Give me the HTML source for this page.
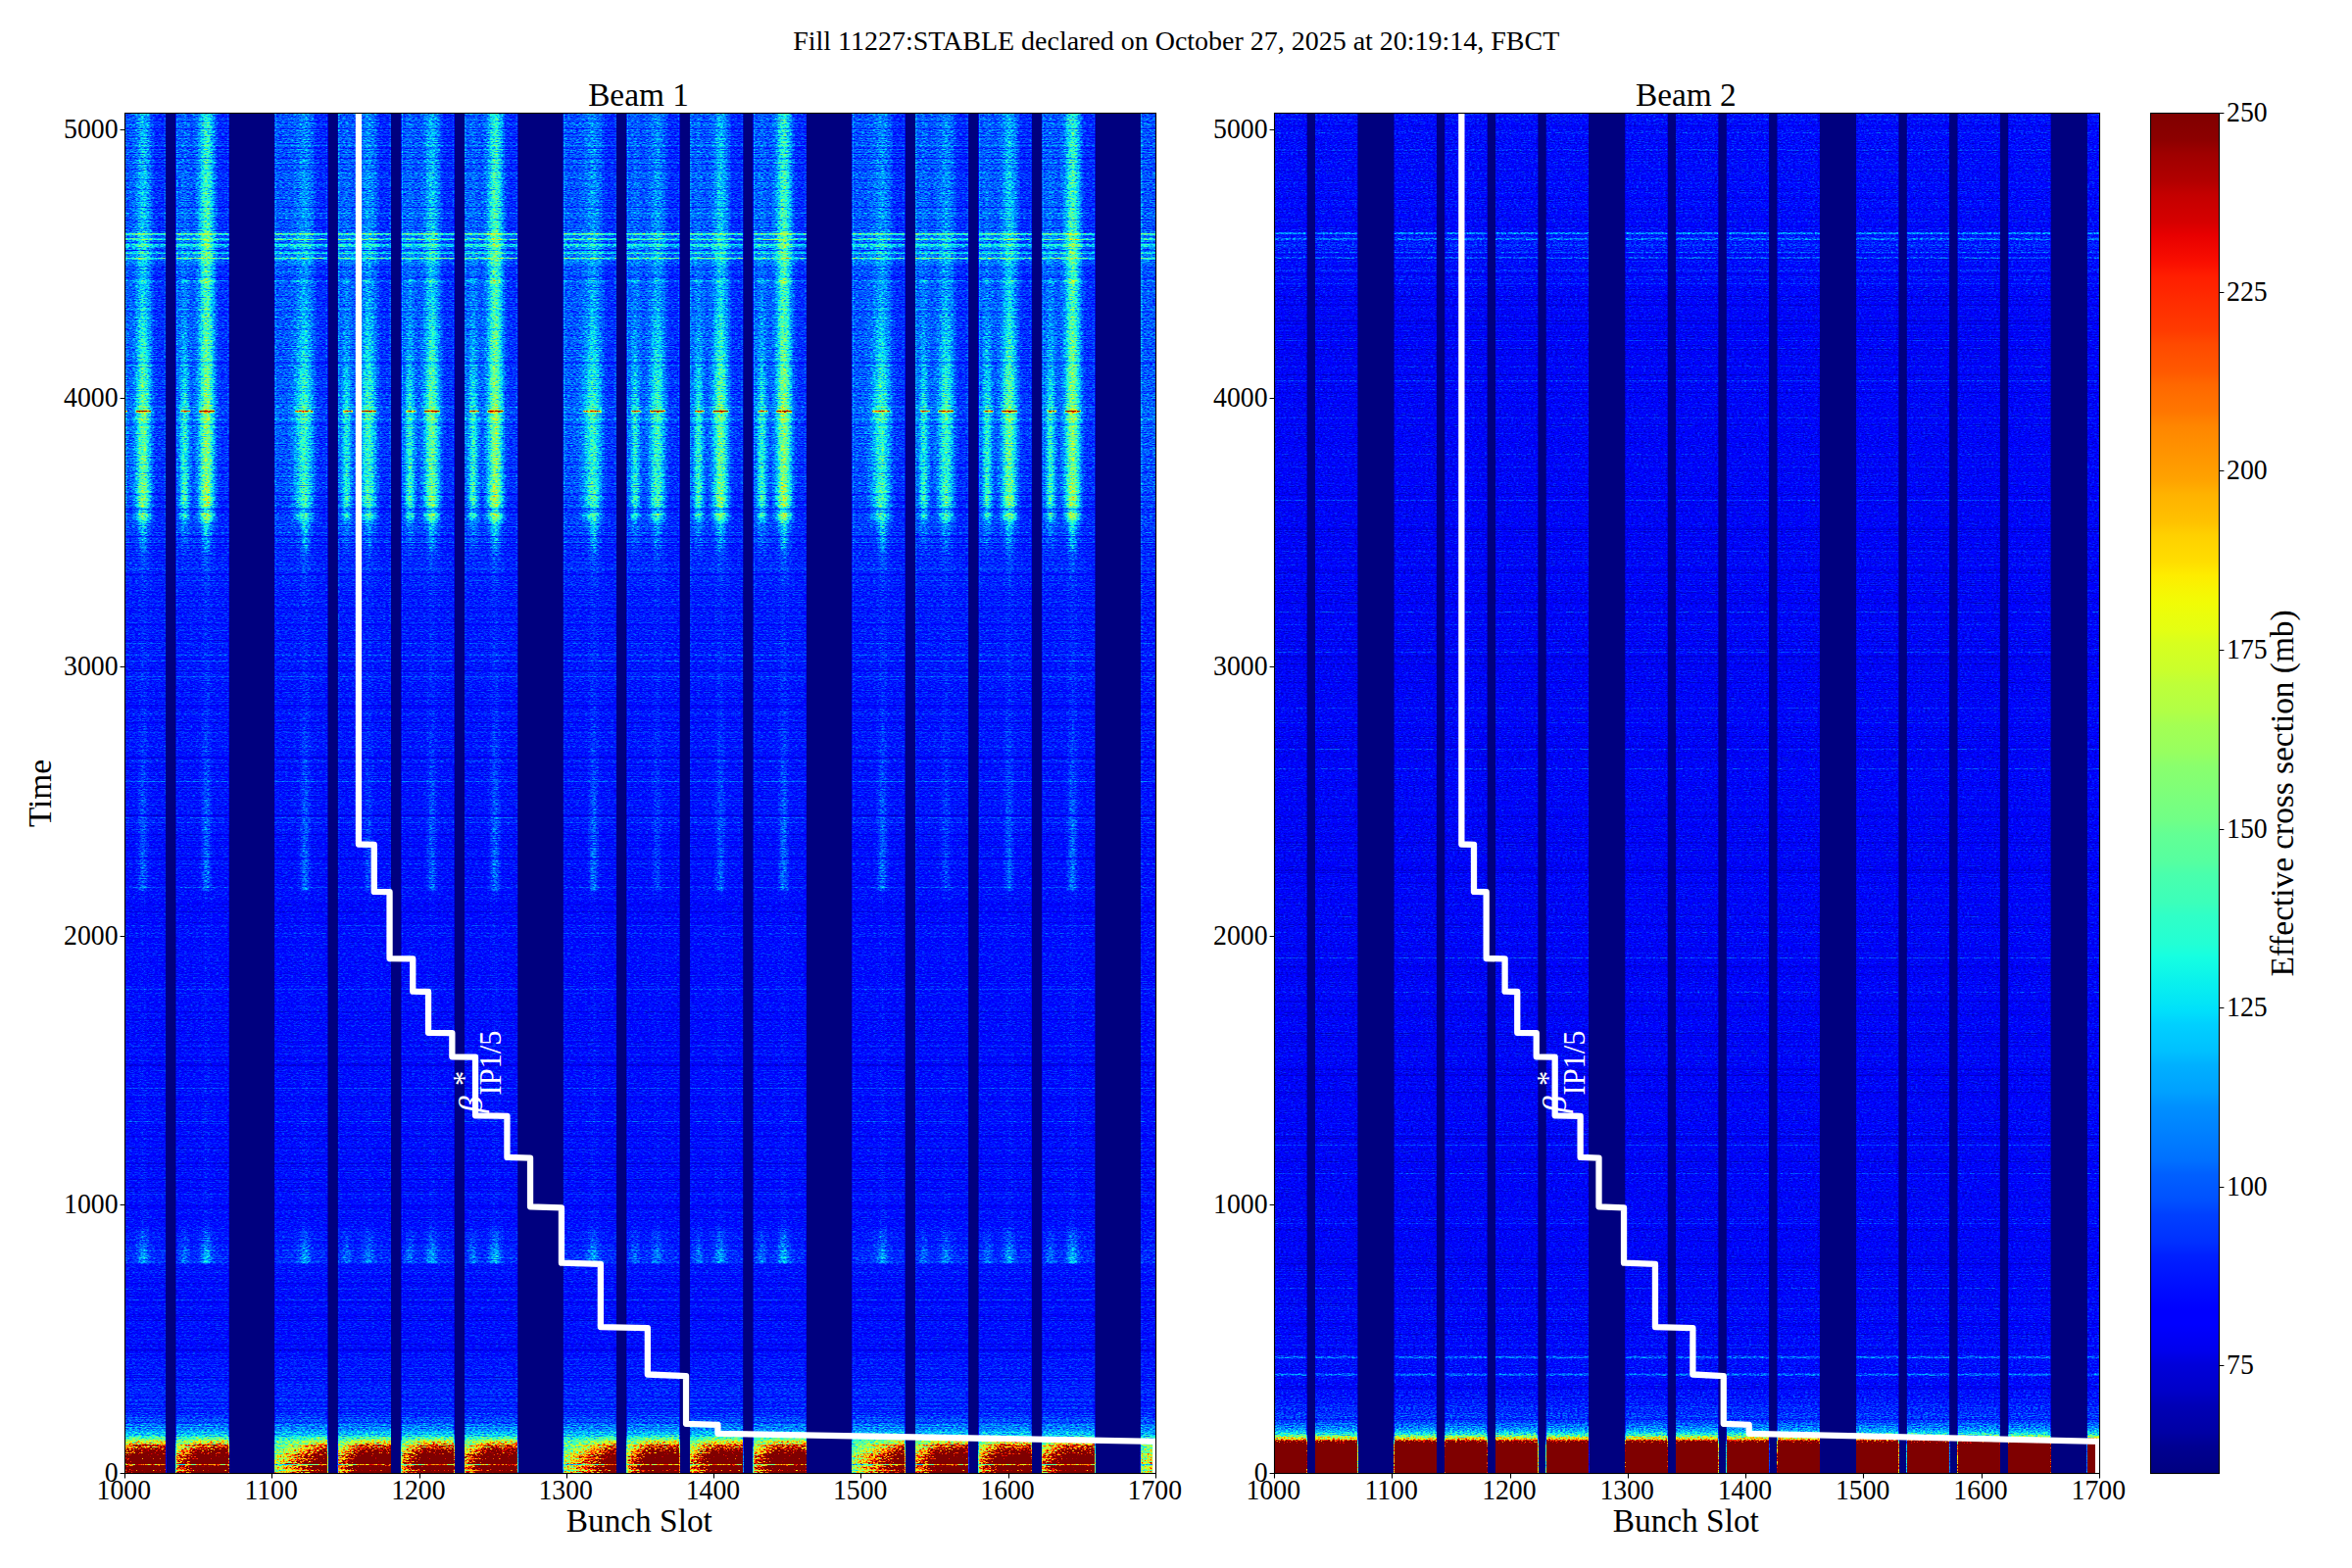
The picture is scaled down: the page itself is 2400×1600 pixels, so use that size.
<!DOCTYPE html>
<html lang="en"><head><meta charset="utf-8"><title>Fill 11227 FBCT effective cross section</title>
<style>html,body{margin:0;padding:0;background:#fff}svg{display:block}text{font-family:"Liberation Serif","DejaVu Serif",serif;fill:#000}</style>
</head><body>
<svg width="2400" height="1600" viewBox="0 0 2400 1600">
<defs>
<filter id="jn1" filterUnits="userSpaceOnUse" x="127.5" y="115.5" width="1052" height="1388" color-interpolation-filters="sRGB"><feTurbulence type="fractalNoise" baseFrequency="0.34 0.9" numOctaves="2" seed="7" result="t1"/><feTurbulence type="fractalNoise" baseFrequency="0 0.8" numOctaves="2" seed="27" result="t2"/><feComposite in="t1" in2="t2" operator="arithmetic" k1="0" k2=".72" k3=".28" k4="0" result="t"/><feColorMatrix in="t" type="matrix" values="2.6 0 0 0 -.8 2.6 0 0 0 -.8 2.6 0 0 0 -.8 0 0 0 0 1" result="n"/><feComposite in="SourceGraphic" in2="n" operator="arithmetic" k1=".42" k2=".79" k3="0" k4="0" result="s1"/><feComponentTransfer in="SourceGraphic" result="m"><feFuncR type="table" tableValues="0 .06 .11 .155 .22 .27 .28 .285 .29 .295 .3 .38 .46 .54 .62 .7 .76 .82 .88 .94 1 1 1 1 1 1 1 1 1 1 1 1 1 1 1 1 1 1 1 1 1"/><feFuncG type="table" tableValues="0 .06 .11 .155 .22 .27 .28 .285 .29 .295 .3 .38 .46 .54 .62 .7 .76 .82 .88 .94 1 1 1 1 1 1 1 1 1 1 1 1 1 1 1 1 1 1 1 1 1"/><feFuncB type="table" tableValues="0 .06 .11 .155 .22 .27 .28 .285 .29 .295 .3 .38 .46 .54 .62 .7 .76 .82 .88 .94 1 1 1 1 1 1 1 1 1 1 1 1 1 1 1 1 1 1 1 1 1"/></feComponentTransfer><feComposite in="n" in2="m" operator="arithmetic" k1="1" k2="0" k3="0" k4="0" result="nm"/><feComposite in="s1" in2="nm" operator="arithmetic" k1="0" k2="1" k3=".2" k4="0" result="s2"/><feColorMatrix in="m" type="matrix" values="-1 0 0 0 1 0 -1 0 0 1 0 0 -1 0 1 0 0 0 0 1" result="mi"/><feComposite in="s2" in2="mi" operator="arithmetic" k1="0" k2="1" k3=".1" k4="-.1" result="s3"/><feComponentTransfer in="s3"><feFuncR type="table" tableValues="0 0 0 0 0 0 0 0 0 0 0 0 0 0 0 0 0 0 0 0 0 0 0 0 0 0 0 0 0 0 0 0 0 0 0 0 0 0 0 0 0 0 0 0 0 0 0 0 0 0 0 0 0 0 0 0 0 0 0 0 0 0 0 0 0 0 0 0 0 0 0 .009 .035 .047 .06 .085 .098 .111 .123 .149 .161 .174 .187 .212 .225 .237 .262 .275 .288 .3 .326 .338 .351 .376 .389 .402 .414 .44 .452 .465 .49 .503 .515 .528 .553 .566 .579 .591 .617 .629 .642 .667 .68 .693 .705 .731 .743 .756 .781 .794 .806 .819 .844 .857 .87 .895 .908 .92 .933 .958 .971 .984 .996 1 1 1 1 1 1 1 1 1 1 1 1 1 1 1 1 1 1 1 1 1 1 1 1 1 1 1 1 1 1 1 1 1 1 1 1 1 1 1 1 1 1 1 1 1 .999 .963 .946 .928 .91 .874 .857 .839 .803 .785 .767 .75 .714 .696 .678 .643 .625 .607 .589 .553 .536 .518 .5 .5 .5 .5 .5 .5 .5 .5 .5 .5 .5 .5 .5 .5 .5 .5 .5 .5 .5 .5 .5 .5 .5 .5 .5 .5 .5 .5 .5 .5 .5 .5 .5 .5 .5 .5 .5 .5 .5 .5 .5 .5 .5 .5 .5 .5 .5 .5 .5 .5 .5 .5 .5 .5 .5 .5 .5 .5 .5 .5 .5 .5 .5 .5 .5 .5 .5 .5 .5 .5 .5 .5 .5 .5 .5 .5 .5 .5 .5 .5 .5 .5 .5 .5 .5 .5 .5 .5 .5 .5 .5 .5 .5 .5 .5 .5 .5 .5 .5 .5 .5 .5 .5 .5 .5 .5 .5 .5 .5 .5 .5 .5 .5 .5 .5 .5 .5 .5 .5 .5 .5 .5 .5 .5 .5 .5 .5 .5 .5 .5 .5 .5 .5 .5 .5 .5 .5 .5 .5 .5 .5 .5 .5 .5 .5 .5 .5 .5 .5 .5 .5 .5 .5 .5 .5 .5 .5 .5 .5 .5 .5 .5 .5 .5 .5 .5 .5 .5 .5 .5 .5 .5 .5 .5 .5 .5 .5 .5 .5 .5 .5 .5 .5 .5 .5 .5 .5 .5 .5 .5 .5 .5 .5 .5 .5 .5 .5 .5 .5 .5 .5"/><feFuncG type="table" tableValues="0 0 0 0 0 0 0 0 0 0 0 0 0 0 0 0 0 0 0 0 0 0 0 0 0 .002 .018 .033 .049 .08 .096 .112 .127 .159 .175 .19 .222 .237 .253 .269 .3 .316 .331 .363 .378 .394 .41 .441 .457 .473 .504 .52 .535 .551 .582 .598 .614 .629 .661 .676 .692 .724 .739 .755 .771 .802 .818 .833 .865 .88 .896 .912 .943 .959 .975 1 1 1 1 1 1 1 1 1 1 1 1 1 1 1 1 1 1 1 1 1 1 1 1 1 1 1 1 1 1 1 1 1 1 1 1 1 1 1 1 1 1 1 1 1 1 1 1 1 1 1 1 1 1 .974 .959 .945 .93 .901 .887 .872 .843 .829 .814 .8 .771 .756 .741 .712 .698 .683 .669 .64 .625 .611 .582 .567 .553 .538 .509 .495 .48 .466 .436 .422 .407 .378 .364 .349 .335 .306 .291 .277 .248 .233 .219 .204 .175 .16 .146 .117 .102 .088 .073 .044 .03 .015 .001 0 0 0 0 0 0 0 0 0 0 0 0 0 0 0 0 0 0 0 0 0 0 0 0 0 0 0 0 0 0 0 0 0 0 0 0 0 0 0 0 0 0 0 0 0 0 0 0 0 0 0 0 0 0 0 0 0 0 0 0 0 0 0 0 0 0 0 0 0 0 0 0 0 0 0 0 0 0 0 0 0 0 0 0 0 0 0 0 0 0 0 0 0 0 0 0 0 0 0 0 0 0 0 0 0 0 0 0 0 0 0 0 0 0 0 0 0 0 0 0 0 0 0 0 0 0 0 0 0 0 0 0 0 0 0 0 0 0 0 0 0 0 0 0 0 0 0 0 0 0 0 0 0 0 0 0 0 0 0 0 0 0 0 0 0 0 0 0 0 0 0 0 0 0 0 0 0 0 0 0 0 0 0 0 0 0 0 0 0 0 0 0 0 0 0 0 0 0 0 0 0 0 0 0 0 0 0 0 0 0 0 0 0 0 0 0 0 0"/><feFuncB type="table" tableValues=".5 .518 .536 .553 .589 .607 .625 .643 .678 .696 .714 .75 .767 .785 .803 .839 .857 .874 .91 .928 .946 .963 .999 1 1 1 1 1 1 1 1 1 1 1 1 1 1 1 1 1 1 1 1 1 1 1 1 1 1 1 1 1 1 1 1 1 1 1 1 1 1 1 1 1 1 1 1 1 .996 .984 .971 .958 .933 .92 .908 .882 .87 .857 .844 .819 .806 .794 .781 .756 .743 .731 .705 .693 .68 .667 .642 .629 .617 .591 .579 .566 .553 .528 .515 .503 .478 .465 .452 .44 .414 .402 .389 .376 .351 .338 .326 .3 .288 .275 .262 .237 .225 .212 .187 .174 .161 .149 .123 .111 .098 .073 .06 .047 .035 .009 0 0 0 0 0 0 0 0 0 0 0 0 0 0 0 0 0 0 0 0 0 0 0 0 0 0 0 0 0 0 0 0 0 0 0 0 0 0 0 0 0 0 0 0 0 0 0 0 0 0 0 0 0 0 0 0 0 0 0 0 0 0 0 0 0 0 0 0 0 0 0 0 0 0 0 0 0 0 0 0 0 0 0 0 0 0 0 0 0 0 0 0 0 0 0 0 0 0 0 0 0 0 0 0 0 0 0 0 0 0 0 0 0 0 0 0 0 0 0 0 0 0 0 0 0 0 0 0 0 0 0 0 0 0 0 0 0 0 0 0 0 0 0 0 0 0 0 0 0 0 0 0 0 0 0 0 0 0 0 0 0 0 0 0 0 0 0 0 0 0 0 0 0 0 0 0 0 0 0 0 0 0 0 0 0 0 0 0 0 0 0 0 0 0 0 0 0 0 0 0 0 0 0 0 0 0 0 0 0 0 0 0 0 0 0 0 0 0 0 0 0 0 0 0 0 0 0 0 0 0 0 0 0 0 0 0 0 0 0 0 0 0 0 0 0 0 0 0 0 0 0 0 0 0 0 0 0 0 0 0 0 0 0 0 0 0 0 0 0 0 0"/></feComponentTransfer></filter>
<filter id="jn2" filterUnits="userSpaceOnUse" x="1300.5" y="115.5" width="842" height="1388" color-interpolation-filters="sRGB"><feTurbulence type="fractalNoise" baseFrequency="0.4 0.9" numOctaves="2" seed="11" result="t1"/><feTurbulence type="fractalNoise" baseFrequency="0 0.8" numOctaves="2" seed="31" result="t2"/><feComposite in="t1" in2="t2" operator="arithmetic" k1="0" k2=".72" k3=".28" k4="0" result="t"/><feColorMatrix in="t" type="matrix" values="2.6 0 0 0 -.8 2.6 0 0 0 -.8 2.6 0 0 0 -.8 0 0 0 0 1" result="n"/><feComposite in="SourceGraphic" in2="n" operator="arithmetic" k1=".42" k2=".79" k3="0" k4="0" result="s1"/><feComponentTransfer in="SourceGraphic" result="m"><feFuncR type="table" tableValues="0 .07 .15 .2 .24 .27 .3 .315 .33 .345 .36 .408 .456 .504 .552 .6 .68 .76 .84 .92 1 1 1 1 1 1 1 1 1 1 1 1 1 1 1 1 1 1 1 1 1"/><feFuncG type="table" tableValues="0 .07 .15 .2 .24 .27 .3 .315 .33 .345 .36 .408 .456 .504 .552 .6 .68 .76 .84 .92 1 1 1 1 1 1 1 1 1 1 1 1 1 1 1 1 1 1 1 1 1"/><feFuncB type="table" tableValues="0 .07 .15 .2 .24 .27 .3 .315 .33 .345 .36 .408 .456 .504 .552 .6 .68 .76 .84 .92 1 1 1 1 1 1 1 1 1 1 1 1 1 1 1 1 1 1 1 1 1"/></feComponentTransfer><feComposite in="n" in2="m" operator="arithmetic" k1="1" k2="0" k3="0" k4="0" result="nm"/><feComposite in="s1" in2="nm" operator="arithmetic" k1="0" k2="1" k3=".2" k4="0" result="s2"/><feColorMatrix in="m" type="matrix" values="-1 0 0 0 1 0 -1 0 0 1 0 0 -1 0 1 0 0 0 0 1" result="mi"/><feComposite in="s2" in2="mi" operator="arithmetic" k1="0" k2="1" k3=".1" k4="-.1" result="s3"/><feComponentTransfer in="s3"><feFuncR type="table" tableValues="0 0 0 0 0 0 0 0 0 0 0 0 0 0 0 0 0 0 0 0 0 0 0 0 0 0 0 0 0 0 0 0 0 0 0 0 0 0 0 0 0 0 0 0 0 0 0 0 0 0 0 0 0 0 0 0 0 0 0 0 0 0 0 0 0 0 0 0 0 0 0 .009 .035 .047 .06 .085 .098 .111 .123 .149 .161 .174 .187 .212 .225 .237 .262 .275 .288 .3 .326 .338 .351 .376 .389 .402 .414 .44 .452 .465 .49 .503 .515 .528 .553 .566 .579 .591 .617 .629 .642 .667 .68 .693 .705 .731 .743 .756 .781 .794 .806 .819 .844 .857 .87 .895 .908 .92 .933 .958 .971 .984 .996 1 1 1 1 1 1 1 1 1 1 1 1 1 1 1 1 1 1 1 1 1 1 1 1 1 1 1 1 1 1 1 1 1 1 1 1 1 1 1 1 1 1 1 1 1 .999 .963 .946 .928 .91 .874 .857 .839 .803 .785 .767 .75 .714 .696 .678 .643 .625 .607 .589 .553 .536 .518 .5 .5 .5 .5 .5 .5 .5 .5 .5 .5 .5 .5 .5 .5 .5 .5 .5 .5 .5 .5 .5 .5 .5 .5 .5 .5 .5 .5 .5 .5 .5 .5 .5 .5 .5 .5 .5 .5 .5 .5 .5 .5 .5 .5 .5 .5 .5 .5 .5 .5 .5 .5 .5 .5 .5 .5 .5 .5 .5 .5 .5 .5 .5 .5 .5 .5 .5 .5 .5 .5 .5 .5 .5 .5 .5 .5 .5 .5 .5 .5 .5 .5 .5 .5 .5 .5 .5 .5 .5 .5 .5 .5 .5 .5 .5 .5 .5 .5 .5 .5 .5 .5 .5 .5 .5 .5 .5 .5 .5 .5 .5 .5 .5 .5 .5 .5 .5 .5 .5 .5 .5 .5 .5 .5 .5 .5 .5 .5 .5 .5 .5 .5 .5 .5 .5 .5 .5 .5 .5 .5 .5 .5 .5 .5 .5 .5 .5 .5 .5 .5 .5 .5 .5 .5 .5 .5 .5 .5 .5 .5 .5 .5 .5 .5 .5 .5 .5 .5 .5 .5 .5 .5 .5 .5 .5 .5 .5 .5 .5 .5 .5 .5 .5 .5 .5 .5 .5 .5 .5 .5 .5 .5 .5 .5 .5 .5 .5 .5 .5 .5 .5"/><feFuncG type="table" tableValues="0 0 0 0 0 0 0 0 0 0 0 0 0 0 0 0 0 0 0 0 0 0 0 0 0 .002 .018 .033 .049 .08 .096 .112 .127 .159 .175 .19 .222 .237 .253 .269 .3 .316 .331 .363 .378 .394 .41 .441 .457 .473 .504 .52 .535 .551 .582 .598 .614 .629 .661 .676 .692 .724 .739 .755 .771 .802 .818 .833 .865 .88 .896 .912 .943 .959 .975 1 1 1 1 1 1 1 1 1 1 1 1 1 1 1 1 1 1 1 1 1 1 1 1 1 1 1 1 1 1 1 1 1 1 1 1 1 1 1 1 1 1 1 1 1 1 1 1 1 1 1 1 1 1 .974 .959 .945 .93 .901 .887 .872 .843 .829 .814 .8 .771 .756 .741 .712 .698 .683 .669 .64 .625 .611 .582 .567 .553 .538 .509 .495 .48 .466 .436 .422 .407 .378 .364 .349 .335 .306 .291 .277 .248 .233 .219 .204 .175 .16 .146 .117 .102 .088 .073 .044 .03 .015 .001 0 0 0 0 0 0 0 0 0 0 0 0 0 0 0 0 0 0 0 0 0 0 0 0 0 0 0 0 0 0 0 0 0 0 0 0 0 0 0 0 0 0 0 0 0 0 0 0 0 0 0 0 0 0 0 0 0 0 0 0 0 0 0 0 0 0 0 0 0 0 0 0 0 0 0 0 0 0 0 0 0 0 0 0 0 0 0 0 0 0 0 0 0 0 0 0 0 0 0 0 0 0 0 0 0 0 0 0 0 0 0 0 0 0 0 0 0 0 0 0 0 0 0 0 0 0 0 0 0 0 0 0 0 0 0 0 0 0 0 0 0 0 0 0 0 0 0 0 0 0 0 0 0 0 0 0 0 0 0 0 0 0 0 0 0 0 0 0 0 0 0 0 0 0 0 0 0 0 0 0 0 0 0 0 0 0 0 0 0 0 0 0 0 0 0 0 0 0 0 0 0 0 0 0 0 0 0 0 0 0 0 0 0 0 0 0 0 0"/><feFuncB type="table" tableValues=".5 .518 .536 .553 .589 .607 .625 .643 .678 .696 .714 .75 .767 .785 .803 .839 .857 .874 .91 .928 .946 .963 .999 1 1 1 1 1 1 1 1 1 1 1 1 1 1 1 1 1 1 1 1 1 1 1 1 1 1 1 1 1 1 1 1 1 1 1 1 1 1 1 1 1 1 1 1 1 .996 .984 .971 .958 .933 .92 .908 .882 .87 .857 .844 .819 .806 .794 .781 .756 .743 .731 .705 .693 .68 .667 .642 .629 .617 .591 .579 .566 .553 .528 .515 .503 .478 .465 .452 .44 .414 .402 .389 .376 .351 .338 .326 .3 .288 .275 .262 .237 .225 .212 .187 .174 .161 .149 .123 .111 .098 .073 .06 .047 .035 .009 0 0 0 0 0 0 0 0 0 0 0 0 0 0 0 0 0 0 0 0 0 0 0 0 0 0 0 0 0 0 0 0 0 0 0 0 0 0 0 0 0 0 0 0 0 0 0 0 0 0 0 0 0 0 0 0 0 0 0 0 0 0 0 0 0 0 0 0 0 0 0 0 0 0 0 0 0 0 0 0 0 0 0 0 0 0 0 0 0 0 0 0 0 0 0 0 0 0 0 0 0 0 0 0 0 0 0 0 0 0 0 0 0 0 0 0 0 0 0 0 0 0 0 0 0 0 0 0 0 0 0 0 0 0 0 0 0 0 0 0 0 0 0 0 0 0 0 0 0 0 0 0 0 0 0 0 0 0 0 0 0 0 0 0 0 0 0 0 0 0 0 0 0 0 0 0 0 0 0 0 0 0 0 0 0 0 0 0 0 0 0 0 0 0 0 0 0 0 0 0 0 0 0 0 0 0 0 0 0 0 0 0 0 0 0 0 0 0 0 0 0 0 0 0 0 0 0 0 0 0 0 0 0 0 0 0 0 0 0 0 0 0 0 0 0 0 0 0 0 0 0 0 0 0 0 0 0 0 0 0 0 0 0 0 0 0 0 0 0 0 0"/></feComponentTransfer></filter>
<linearGradient id="g1b" gradientUnits="userSpaceOnUse" x1="0" y1="1503.5" x2="0" y2="115.5"><stop offset="0" stop-color="#bfbfbf"/><stop offset=".0119" stop-color="#b9b9b9"/><stop offset=".0168" stop-color="#8f8f8f"/><stop offset=".0198" stop-color="#797979"/><stop offset=".0213" stop-color="#696969"/><stop offset=".0227" stop-color="#575757"/><stop offset=".0247" stop-color="#404040"/><stop offset=".0277" stop-color="#2e2e2e"/><stop offset=".0316" stop-color="#222222"/><stop offset=".0375" stop-color="#1b1b1b"/><stop offset=".0474" stop-color="#161616"/><stop offset=".0632" stop-color="#141414"/><stop offset=".0889" stop-color="#121212"/><stop offset=".1539" stop-color="#121212"/><stop offset=".1549" stop-color="#151515"/><stop offset=".164" stop-color="#151515"/><stop offset=".1817" stop-color="#121212"/><stop offset=".4149" stop-color="#111111"/><stop offset=".4287" stop-color="#121212"/><stop offset=".5927" stop-color="#131313"/><stop offset=".6519" stop-color="#141414"/><stop offset=".6914" stop-color="#171717"/><stop offset=".7309" stop-color="#1a1a1a"/><stop offset=".7803" stop-color="#1c1c1c"/><stop offset=".8692" stop-color="#1b1b1b"/><stop offset=".885" stop-color="#1b1b1b"/><stop offset=".891" stop-color="#1f1f1f"/><stop offset=".9117" stop-color="#1f1f1f"/><stop offset=".9147" stop-color="#1b1b1b"/><stop offset=".9996" stop-color="#1b1b1b"/></linearGradient>
<linearGradient id="g1B0" gradientUnits="userSpaceOnUse" x1="0" y1="1503.5" x2="0" y2="115.5"><stop offset="0" stop-color="#808080" stop-opacity="0"/><stop offset=".1539" stop-color="#808080" stop-opacity="0"/><stop offset=".1549" stop-color="#808080" stop-opacity=".084"/><stop offset=".162" stop-color="#808080" stop-opacity=".078"/><stop offset=".1719" stop-color="#808080" stop-opacity=".041"/><stop offset=".1837" stop-color="#808080" stop-opacity="0"/><stop offset=".6717" stop-color="#808080" stop-opacity="0"/><stop offset=".6914" stop-color="#808080" stop-opacity=".024"/><stop offset=".6983" stop-color="#808080" stop-opacity=".073"/><stop offset=".7013" stop-color="#808080" stop-opacity=".294"/><stop offset=".7051" stop-color="#808080" stop-opacity=".468"/><stop offset=".7076" stop-color="#808080" stop-opacity=".247"/><stop offset=".7092" stop-color="#808080" stop-opacity=".185"/><stop offset=".7108" stop-color="#808080" stop-opacity=".359"/><stop offset=".7141" stop-color="#808080" stop-opacity=".484"/><stop offset=".7191" stop-color="#808080" stop-opacity=".411"/><stop offset=".7309" stop-color="#808080" stop-opacity=".352"/><stop offset=".7704" stop-color="#808080" stop-opacity=".344"/><stop offset=".7793" stop-color="#808080" stop-opacity=".384"/><stop offset=".7902" stop-color="#808080" stop-opacity=".345"/><stop offset=".8297" stop-color="#808080" stop-opacity=".219"/><stop offset=".8692" stop-color="#808080" stop-opacity=".106"/><stop offset=".8742" stop-color="#808080" stop-opacity=".099"/><stop offset=".8753" stop-color="#808080" stop-opacity=".151"/><stop offset=".8777" stop-color="#808080" stop-opacity=".142"/><stop offset=".8789" stop-color="#808080" stop-opacity=".088"/><stop offset=".9127" stop-color="#808080" stop-opacity=".094"/><stop offset=".9996" stop-color="#808080" stop-opacity=".076"/></linearGradient>
<linearGradient id="g1B1" gradientUnits="userSpaceOnUse" x1="0" y1="1503.5" x2="0" y2="115.5"><stop offset="0" stop-color="#808080" stop-opacity="0"/><stop offset=".1539" stop-color="#808080" stop-opacity="0"/><stop offset=".1549" stop-color="#808080" stop-opacity=".084"/><stop offset=".162" stop-color="#808080" stop-opacity=".078"/><stop offset=".1719" stop-color="#808080" stop-opacity=".041"/><stop offset=".1837" stop-color="#808080" stop-opacity="0"/><stop offset=".6717" stop-color="#808080" stop-opacity="0"/><stop offset=".6914" stop-color="#808080" stop-opacity=".024"/><stop offset=".6983" stop-color="#808080" stop-opacity=".073"/><stop offset=".7013" stop-color="#808080" stop-opacity=".294"/><stop offset=".7051" stop-color="#808080" stop-opacity=".468"/><stop offset=".7076" stop-color="#808080" stop-opacity=".247"/><stop offset=".7092" stop-color="#808080" stop-opacity=".185"/><stop offset=".7108" stop-color="#808080" stop-opacity=".359"/><stop offset=".7141" stop-color="#808080" stop-opacity=".484"/><stop offset=".7191" stop-color="#808080" stop-opacity=".411"/><stop offset=".7309" stop-color="#808080" stop-opacity=".352"/><stop offset=".7704" stop-color="#808080" stop-opacity=".344"/><stop offset=".7793" stop-color="#808080" stop-opacity=".384"/><stop offset=".7902" stop-color="#808080" stop-opacity=".345"/><stop offset=".8297" stop-color="#808080" stop-opacity=".224"/><stop offset=".8692" stop-color="#808080" stop-opacity=".113"/><stop offset=".8742" stop-color="#808080" stop-opacity=".107"/><stop offset=".8753" stop-color="#808080" stop-opacity=".164"/><stop offset=".8777" stop-color="#808080" stop-opacity=".156"/><stop offset=".8789" stop-color="#808080" stop-opacity=".097"/><stop offset=".9127" stop-color="#808080" stop-opacity=".103"/><stop offset=".9996" stop-color="#808080" stop-opacity=".084"/></linearGradient>
<linearGradient id="g1B2" gradientUnits="userSpaceOnUse" x1="0" y1="1503.5" x2="0" y2="115.5"><stop offset="0" stop-color="#808080" stop-opacity="0"/><stop offset=".1539" stop-color="#808080" stop-opacity="0"/><stop offset=".1549" stop-color="#808080" stop-opacity=".084"/><stop offset=".162" stop-color="#808080" stop-opacity=".078"/><stop offset=".1719" stop-color="#808080" stop-opacity=".041"/><stop offset=".1837" stop-color="#808080" stop-opacity="0"/><stop offset=".6717" stop-color="#808080" stop-opacity="0"/><stop offset=".6914" stop-color="#808080" stop-opacity=".024"/><stop offset=".6983" stop-color="#808080" stop-opacity=".073"/><stop offset=".7013" stop-color="#808080" stop-opacity=".294"/><stop offset=".7051" stop-color="#808080" stop-opacity=".468"/><stop offset=".7076" stop-color="#808080" stop-opacity=".247"/><stop offset=".7092" stop-color="#808080" stop-opacity=".185"/><stop offset=".7108" stop-color="#808080" stop-opacity=".359"/><stop offset=".7141" stop-color="#808080" stop-opacity=".484"/><stop offset=".7191" stop-color="#808080" stop-opacity=".411"/><stop offset=".7309" stop-color="#808080" stop-opacity=".352"/><stop offset=".7704" stop-color="#808080" stop-opacity=".344"/><stop offset=".7793" stop-color="#808080" stop-opacity=".384"/><stop offset=".7902" stop-color="#808080" stop-opacity=".345"/><stop offset=".8297" stop-color="#808080" stop-opacity=".245"/><stop offset=".8692" stop-color="#808080" stop-opacity=".15"/><stop offset=".8742" stop-color="#808080" stop-opacity=".149"/><stop offset=".8753" stop-color="#808080" stop-opacity=".23"/><stop offset=".8777" stop-color="#808080" stop-opacity=".223"/><stop offset=".8789" stop-color="#808080" stop-opacity=".141"/><stop offset=".9127" stop-color="#808080" stop-opacity=".15"/><stop offset=".9996" stop-color="#808080" stop-opacity=".122"/></linearGradient>
<linearGradient id="g1B3" gradientUnits="userSpaceOnUse" x1="0" y1="1503.5" x2="0" y2="115.5"><stop offset="0" stop-color="#808080" stop-opacity="0"/><stop offset=".1539" stop-color="#808080" stop-opacity="0"/><stop offset=".1549" stop-color="#808080" stop-opacity=".084"/><stop offset=".162" stop-color="#808080" stop-opacity=".078"/><stop offset=".1719" stop-color="#808080" stop-opacity=".041"/><stop offset=".1837" stop-color="#808080" stop-opacity="0"/><stop offset=".6717" stop-color="#808080" stop-opacity="0"/><stop offset=".6914" stop-color="#808080" stop-opacity=".024"/><stop offset=".6983" stop-color="#808080" stop-opacity=".073"/><stop offset=".7013" stop-color="#808080" stop-opacity=".294"/><stop offset=".7051" stop-color="#808080" stop-opacity=".468"/><stop offset=".7076" stop-color="#808080" stop-opacity=".247"/><stop offset=".7092" stop-color="#808080" stop-opacity=".185"/><stop offset=".7108" stop-color="#808080" stop-opacity=".359"/><stop offset=".7141" stop-color="#808080" stop-opacity=".484"/><stop offset=".7191" stop-color="#808080" stop-opacity=".411"/><stop offset=".7309" stop-color="#808080" stop-opacity=".352"/><stop offset=".7704" stop-color="#808080" stop-opacity=".344"/><stop offset=".7793" stop-color="#808080" stop-opacity=".384"/><stop offset=".7902" stop-color="#808080" stop-opacity=".345"/><stop offset=".8297" stop-color="#808080" stop-opacity=".297"/><stop offset=".8692" stop-color="#808080" stop-opacity=".242"/><stop offset=".8742" stop-color="#808080" stop-opacity=".251"/><stop offset=".8753" stop-color="#808080" stop-opacity=".392"/><stop offset=".8777" stop-color="#808080" stop-opacity=".39"/><stop offset=".8789" stop-color="#808080" stop-opacity=".249"/><stop offset=".9127" stop-color="#808080" stop-opacity=".265"/><stop offset=".9996" stop-color="#808080" stop-opacity=".216"/></linearGradient>
<linearGradient id="g1N" gradientUnits="userSpaceOnUse" x1="0" y1="1503.5" x2="0" y2="115.5"><stop offset="0" stop-color="#808080" stop-opacity="0"/><stop offset=".1539" stop-color="#808080" stop-opacity="0"/><stop offset=".1549" stop-color="#808080" stop-opacity=".108"/><stop offset=".162" stop-color="#808080" stop-opacity=".102"/><stop offset=".1719" stop-color="#808080" stop-opacity=".059"/><stop offset=".1837" stop-color="#808080" stop-opacity=".014"/><stop offset=".4277" stop-color="#808080" stop-opacity=".014"/><stop offset=".4293" stop-color="#808080" stop-opacity=".123"/><stop offset=".4741" stop-color="#808080" stop-opacity=".094"/><stop offset=".5531" stop-color="#808080" stop-opacity=".035"/><stop offset=".6223" stop-color="#808080" stop-opacity=".018"/><stop offset=".6519" stop-color="#808080" stop-opacity=".024"/><stop offset=".6756" stop-color="#808080" stop-opacity=".06"/><stop offset=".6815" stop-color="#808080" stop-opacity=".145"/><stop offset=".6983" stop-color="#808080" stop-opacity=".171"/><stop offset=".7033" stop-color="#808080" stop-opacity=".061"/><stop offset=".9996" stop-color="#808080" stop-opacity=".025"/></linearGradient>
<linearGradient id="g1A" gradientUnits="userSpaceOnUse" x1="0" y1="1503.5" x2="0" y2="115.5"><stop offset="0" stop-color="#808080" stop-opacity="0"/><stop offset=".1539" stop-color="#808080" stop-opacity="0"/><stop offset=".1549" stop-color="#808080" stop-opacity=".102"/><stop offset=".162" stop-color="#808080" stop-opacity=".096"/><stop offset=".1719" stop-color="#808080" stop-opacity=".047"/><stop offset=".1837" stop-color="#808080" stop-opacity="0"/><stop offset=".6717" stop-color="#808080" stop-opacity="0"/><stop offset=".6855" stop-color="#808080" stop-opacity=".061"/><stop offset=".6983" stop-color="#808080" stop-opacity=".098"/><stop offset=".7013" stop-color="#808080" stop-opacity=".184"/><stop offset=".7051" stop-color="#808080" stop-opacity=".369"/><stop offset=".7078" stop-color="#808080" stop-opacity=".148"/><stop offset=".7108" stop-color="#808080" stop-opacity=".247"/><stop offset=".7141" stop-color="#808080" stop-opacity=".384"/><stop offset=".7211" stop-color="#808080" stop-opacity=".299"/><stop offset=".7309" stop-color="#808080" stop-opacity=".277"/><stop offset=".7793" stop-color="#808080" stop-opacity=".243"/><stop offset=".81" stop-color="#808080" stop-opacity=".153"/><stop offset=".8495" stop-color="#808080" stop-opacity=".076"/><stop offset=".8742" stop-color="#808080" stop-opacity=".051"/><stop offset=".8753" stop-color="#808080" stop-opacity=".127"/><stop offset=".8777" stop-color="#808080" stop-opacity=".127"/><stop offset=".8789" stop-color="#808080" stop-opacity=".044"/><stop offset=".9087" stop-color="#808080" stop-opacity=".033"/><stop offset=".9996" stop-color="#808080" stop-opacity=".019"/></linearGradient>
<linearGradient id="g1E" gradientUnits="userSpaceOnUse" x1="0" y1="1503.5" x2="0" y2="115.5"><stop offset="0" stop-color="#808080" stop-opacity="0"/><stop offset=".0296" stop-color="#808080" stop-opacity="0"/><stop offset=".079" stop-color="#808080" stop-opacity=".014"/><stop offset=".5927" stop-color="#808080" stop-opacity=".023"/><stop offset=".6914" stop-color="#808080" stop-opacity=".049"/><stop offset=".7902" stop-color="#808080" stop-opacity=".077"/><stop offset=".9996" stop-color="#808080" stop-opacity=".076"/></linearGradient>
<linearGradient id="g1D" gradientUnits="userSpaceOnUse" x1="0" y1="1503.5" x2="0" y2="115.5"><stop offset="0" stop-color="#000" stop-opacity="0"/><stop offset=".6322" stop-color="#000" stop-opacity="0"/><stop offset=".7112" stop-color="#000" stop-opacity=".157"/><stop offset=".9996" stop-color="#000" stop-opacity=".211"/></linearGradient>
<linearGradient id="g1L" gradientUnits="userSpaceOnUse" x1="0" y1="1503.5" x2="0" y2="115.5"><stop offset="0" stop-color="#000" stop-opacity=".653"/><stop offset=".0119" stop-color="#000" stop-opacity=".655"/><stop offset=".0168" stop-color="#000" stop-opacity=".607"/><stop offset=".0198" stop-color="#000" stop-opacity=".526"/><stop offset=".0221" stop-color="#000" stop-opacity=".405"/><stop offset=".0247" stop-color="#000" stop-opacity=".24"/><stop offset=".0277" stop-color="#000" stop-opacity=".083"/><stop offset=".0336" stop-color="#000" stop-opacity="0"/><stop offset=".9996" stop-color="#000" stop-opacity="0"/></linearGradient>
<g id="hl1"><rect x="0" y="1125" width="36" height="1" fill="#000" opacity=".24"/><rect x="0" y="773" width="36" height="1" fill="#000" opacity=".29"/><rect x="0" y="1378" width="36" height="1" fill="#000" opacity=".24"/><rect x="0" y="255" width="36" height="1" fill="#000" opacity=".28"/><rect x="0" y="1087" width="36" height="1" fill="#000" opacity=".26"/><rect x="0" y="941" width="36" height="1" fill="#000" opacity=".22"/><rect x="0" y="1343" width="36" height="1" fill="#000" opacity=".21"/><rect x="0" y="275" width="36" height="1" fill="#000" opacity=".12"/><rect x="0" y="1360" width="36" height="1" fill="#000" opacity=".13"/><rect x="0" y="504" width="36" height="1" fill="#000" opacity=".22"/><rect x="0" y="1215" width="36" height="1" fill="#000" opacity=".18"/><rect x="0" y="1119" width="36" height="1" fill="#000" opacity=".12"/><rect x="0" y="1309" width="36" height="1" fill="#000" opacity=".26"/><rect x="0" y="1063" width="36" height="1" fill="#000" opacity=".17"/><rect x="0" y="872" width="36" height="1" fill="#000" opacity=".11"/><rect x="0" y="557" width="36" height="1" fill="#000" opacity=".12"/><rect x="0" y="926" width="36" height="1" fill="#000" opacity=".11"/><rect x="0" y="1211" width="36" height="1" fill="#000" opacity=".14"/><rect x="0" y="1371" width="36" height="1" fill="#000" opacity=".21"/><rect x="0" y="1376" width="36" height="1" fill="#000" opacity=".2"/><rect x="0" y="1140" width="36" height="1" fill="#000" opacity=".14"/><rect x="0" y="1320" width="36" height="1" fill="#000" opacity=".13"/><rect x="0" y="1085" width="36" height="1" fill="#000" opacity=".19"/><rect x="0" y="224" width="36" height="1" fill="#000" opacity=".22"/><rect x="0" y="859" width="36" height="1" fill="#000" opacity=".2"/><rect x="0" y="1274" width="36" height="1" fill="#000" opacity=".2"/><rect x="0" y="832" width="36" height="1" fill="#000" opacity=".28"/><rect x="0" y="1377" width="36" height="1" fill="#000" opacity=".27"/><rect x="0" y="684" width="36" height="1" fill="#000" opacity=".25"/><rect x="0" y="336" width="36" height="1" fill="#000" opacity=".18"/><rect x="0" y="1443" width="36" height="1" fill="#000" opacity=".21"/><rect x="0" y="586" width="36" height="1" fill="#000" opacity=".25"/><rect x="0" y="167" width="36" height="1" fill="#000" opacity=".19"/><rect x="0" y="408" width="36" height="1" fill="#000" opacity=".11"/><rect x="0" y="272" width="36" height="1" fill="#000" opacity=".23"/><rect x="0" y="1069" width="36" height="1" fill="#000" opacity=".27"/><rect x="0" y="1434" width="36" height="1" fill="#000" opacity=".16"/><rect x="0" y="653" width="36" height="1" fill="#000" opacity=".26"/><rect x="0" y="831" width="36" height="1" fill="#000" opacity=".24"/><rect x="0" y="1408" width="36" height="1" fill="#000" opacity=".23"/><rect x="0" y="585" width="36" height="1" fill="#000" opacity=".11"/><rect x="0" y="1057" width="36" height="1" fill="#000" opacity=".1"/><rect x="0" y="150" width="36" height="1" fill="#000" opacity=".2"/><rect x="0" y="1150" width="36" height="1" fill="#000" opacity=".21"/><rect x="0" y="318" width="36" height="1" fill="#000" opacity=".12"/><rect x="0" y="737" width="36" height="1" fill="#000" opacity=".29"/><rect x="0" y="374" width="36" height="1" fill="#000" opacity=".15"/><rect x="0" y="1032" width="36" height="1" fill="#000" opacity=".25"/><rect x="0" y="922" width="36" height="1" fill="#000" opacity=".18"/><rect x="0" y="1186" width="36" height="1" fill="#000" opacity=".19"/><rect x="0" y="1268" width="36" height="1" fill="#000" opacity=".26"/><rect x="0" y="772" width="36" height="1" fill="#000" opacity=".29"/><rect x="0" y="705" width="36" height="1" fill="#000" opacity=".11"/><rect x="0" y="901" width="36" height="1" fill="#000" opacity=".25"/><rect x="0" y="779" width="36" height="1" fill="#000" opacity=".23"/><rect x="0" y="1040" width="36" height="1" fill="#000" opacity=".21"/><rect x="0" y="1430" width="36" height="1" fill="#000" opacity=".18"/><rect x="0" y="156" width="36" height="1" fill="#000" opacity=".2"/><rect x="0" y="636" width="36" height="1" fill="#000" opacity=".15"/><rect x="0" y="1171" width="36" height="1" fill="#000" opacity=".29"/><rect x="0" y="637" width="36" height="1" fill="#000" opacity=".13"/><rect x="0" y="1435" width="36" height="1" fill="#000" opacity=".13"/><rect x="0" y="1086" width="36" height="1" fill="#000" opacity=".24"/><rect x="0" y="399" width="36" height="1" fill="#000" opacity=".19"/><rect x="0" y="1425" width="36" height="1" fill="#000" opacity=".23"/><rect x="0" y="1341" width="36" height="1" fill="#000" opacity=".22"/><rect x="0" y="131" width="36" height="1" fill="#000" opacity=".24"/><rect x="0" y="1054" width="36" height="1" fill="#000" opacity=".13"/><rect x="0" y="161" width="36" height="1" fill="#000" opacity=".24"/><rect x="0" y="813" width="36" height="1" fill="#000" opacity=".17"/><rect x="0" y="419" width="36" height="1" fill="#000" opacity=".24"/><rect x="0" y="804" width="36" height="1" fill="#000" opacity=".17"/><rect x="0" y="1190" width="36" height="1" fill="#000" opacity=".27"/><rect x="0" y="522" width="36" height="1" fill="#000" opacity=".27"/><rect x="0" y="369" width="36" height="1" fill="#000" opacity=".23"/><rect x="0" y="1229" width="36" height="1" fill="#000" opacity=".15"/><rect x="0" y="785" width="36" height="1" fill="#000" opacity=".18"/><rect x="0" y="548" width="36" height="1" fill="#000" opacity=".17"/><rect x="0" y="745" width="36" height="1" fill="#000" opacity=".14"/><rect x="0" y="1374" width="36" height="1" fill="#000" opacity=".11"/><rect x="0" y="1323" width="36" height="1" fill="#000" opacity=".22"/><rect x="0" y="233" width="36" height="1" fill="#000" opacity=".19"/><rect x="0" y="482" width="36" height="1" fill="#000" opacity=".11"/><rect x="0" y="1203" width="36" height="1" fill="#000" opacity=".23"/><rect x="0" y="554" width="36" height="1" fill="#000" opacity=".22"/><rect x="0" y="139" width="36" height="1" fill="#000" opacity=".2"/><rect x="0" y="123" width="36" height="1" fill="#000" opacity=".12"/><rect x="0" y="608" width="36" height="1" fill="#000" opacity=".19"/><rect x="0" y="1440" width="36" height="1" fill="#000" opacity=".2"/><rect x="0" y="853" width="36" height="1" fill="#000" opacity=".12"/><rect x="0" y="474" width="36" height="1" fill="#000" opacity=".15"/><rect x="0" y="1405" width="36" height="1" fill="#000" opacity=".3"/><rect x="0" y="1159" width="36" height="1" fill="#000" opacity=".29"/><rect x="0" y="851" width="36" height="1" fill="#000" opacity=".28"/><rect x="0" y="370" width="36" height="1" fill="#000" opacity=".2"/><rect x="0" y="864" width="36" height="1" fill="#000" opacity=".25"/><rect x="0" y="1451" width="36" height="1" fill="#000" opacity=".12"/><rect x="0" y="1445" width="36" height="1" fill="#000" opacity=".19"/><rect x="0" y="282" width="36" height="1" fill="#000" opacity=".24"/><rect x="0" y="1438" width="36" height="1" fill="#000" opacity=".16"/><rect x="0" y="930" width="36" height="1" fill="#000" opacity=".27"/><rect x="0" y="1347" width="36" height="1" fill="#000" opacity=".26"/><rect x="0" y="712" width="36" height="1" fill="#000" opacity=".16"/><rect x="0" y="1266" width="36" height="1" fill="#000" opacity=".11"/><rect x="0" y="1187" width="36" height="1" fill="#000" opacity=".23"/><rect x="0" y="560" width="36" height="1" fill="#000" opacity=".15"/><rect x="0" y="211" width="36" height="1" fill="#000" opacity=".25"/><rect x="0" y="722" width="36" height="1" fill="#000" opacity=".21"/><rect x="0" y="547" width="36" height="1" fill="#000" opacity=".27"/><rect x="0" y="1147" width="36" height="1" fill="#000" opacity=".11"/><rect x="0" y="1079" width="36" height="1" fill="#000" opacity=".19"/><rect x="0" y="1232" width="36" height="1" fill="#000" opacity=".27"/><rect x="0" y="620" width="36" height="1" fill="#000" opacity=".26"/><rect x="0" y="173" width="36" height="1" fill="#000" opacity=".27"/><rect x="0" y="119" width="36" height="1" fill="#000" opacity=".12"/><rect x="0" y="625" width="36" height="1" fill="#000" opacity=".2"/><rect x="0" y="1230" width="36" height="1" fill="#000" opacity=".22"/><rect x="0" y="511" width="36" height="1" fill="#000" opacity=".21"/><rect x="0" y="1164" width="36" height="1" fill="#000" opacity=".1"/><rect x="0" y="1329" width="36" height="1" fill="#000" opacity=".25"/><rect x="0" y="1144" width="36" height="1" fill="#808080" opacity=".05"/><rect x="0" y="1407" width="36" height="1" fill="#808080" opacity=".04"/><rect x="0" y="838" width="36" height="1" fill="#808080" opacity=".03"/><rect x="0" y="761" width="36" height="1" fill="#808080" opacity=".03"/><rect x="0" y="846" width="36" height="1" fill="#808080" opacity=".02"/><rect x="0" y="1454" width="36" height="1" fill="#808080" opacity=".04"/><rect x="0" y="674" width="36" height="1" fill="#808080" opacity=".05"/><rect x="0" y="839" width="36" height="1" fill="#808080" opacity=".05"/><rect x="0" y="1218" width="36" height="1" fill="#808080" opacity=".04"/><rect x="0" y="944" width="36" height="1" fill="#808080" opacity=".04"/><rect x="0" y="1110" width="36" height="1" fill="#808080" opacity=".05"/><rect x="0" y="537" width="36" height="1" fill="#808080" opacity=".04"/><rect x="0" y="580" width="36" height="1" fill="#808080" opacity=".04"/><rect x="0" y="811" width="36" height="1" fill="#808080" opacity=".02"/><rect x="0" y="776" width="36" height="1" fill="#808080" opacity=".06"/><rect x="0" y="1315" width="36" height="1" fill="#808080" opacity=".02"/><rect x="0" y="834" width="36" height="1" fill="#808080" opacity=".05"/><rect x="0" y="1009" width="36" height="1" fill="#808080" opacity=".05"/><rect x="0" y="1326" width="36" height="1" fill="#808080" opacity=".04"/><rect x="0" y="222" width="36" height="1" fill="#808080" opacity=".05"/><rect x="0" y="952" width="36" height="1" fill="#808080" opacity=".06"/><rect x="0" y="905" width="36" height="1" fill="#808080" opacity=".05"/><rect x="0" y="127" width="36" height="1" fill="#808080" opacity=".05"/><rect x="0" y="409" width="36" height="1" fill="#808080" opacity=".03"/><rect x="0" y="492" width="36" height="1" fill="#808080" opacity=".04"/><rect x="0" y="220" width="36" height="1" fill="#808080" opacity=".03"/><rect x="0" y="797" width="36" height="1" fill="#808080" opacity=".05"/><rect x="0" y="543" width="36" height="1" fill="#808080" opacity=".05"/><rect x="0" y="728" width="36" height="1" fill="#808080" opacity=".04"/><rect x="0" y="486" width="36" height="1" fill="#808080" opacity=".03"/><rect x="0" y="217" width="36" height="1" fill="#808080" opacity=".06"/><rect x="0" y="553" width="36" height="1" fill="#808080" opacity=".03"/><rect x="0" y="691" width="36" height="1" fill="#808080" opacity=".03"/><rect x="0" y="428" width="36" height="1" fill="#808080" opacity=".06"/><rect x="0" y="668" width="36" height="1" fill="#808080" opacity=".06"/><rect x="0" y="415" width="36" height="1" fill="#808080" opacity=".05"/><rect x="0" y="166" width="36" height="1" fill="#808080" opacity=".02"/><rect x="0" y="690" width="36" height="1" fill="#808080" opacity=".05"/><rect x="0" y="1288" width="36" height="1" fill="#808080" opacity=".04"/><rect x="0" y="148" width="36" height="1" fill="#808080" opacity=".04"/><rect x="0" y="1298" width="36" height="1" fill="#808080" opacity=".03"/><rect x="0" y="549" width="36" height="1" fill="#808080" opacity=".03"/><rect x="0" y="656" width="36" height="1" fill="#808080" opacity=".03"/><rect x="0" y="881" width="36" height="1" fill="#808080" opacity=".03"/><rect x="0" y="974" width="36" height="1" fill="#808080" opacity=".02"/></g>
<g id="hl2"><rect x="0" y="424" width="36" height="1" fill="#000" opacity=".19"/><rect x="0" y="184" width="36" height="1" fill="#000" opacity=".16"/><rect x="0" y="615" width="36" height="1" fill="#000" opacity=".15"/><rect x="0" y="830" width="36" height="1" fill="#000" opacity=".12"/><rect x="0" y="128" width="36" height="1" fill="#000" opacity=".27"/><rect x="0" y="985" width="36" height="1" fill="#000" opacity=".21"/><rect x="0" y="1361" width="36" height="1" fill="#000" opacity=".27"/><rect x="0" y="1447" width="36" height="1" fill="#000" opacity=".16"/><rect x="0" y="1114" width="36" height="1" fill="#000" opacity=".28"/><rect x="0" y="343" width="36" height="1" fill="#000" opacity=".12"/><rect x="0" y="505" width="36" height="1" fill="#000" opacity=".15"/><rect x="0" y="1035" width="36" height="1" fill="#000" opacity=".25"/><rect x="0" y="1284" width="36" height="1" fill="#000" opacity=".15"/><rect x="0" y="820" width="36" height="1" fill="#000" opacity=".11"/><rect x="0" y="1159" width="36" height="1" fill="#000" opacity=".29"/><rect x="0" y="1330" width="36" height="1" fill="#000" opacity=".29"/><rect x="0" y="540" width="36" height="1" fill="#000" opacity=".26"/><rect x="0" y="917" width="36" height="1" fill="#000" opacity=".17"/><rect x="0" y="1382" width="36" height="1" fill="#000" opacity=".15"/><rect x="0" y="887" width="36" height="1" fill="#000" opacity=".23"/><rect x="0" y="943" width="36" height="1" fill="#000" opacity=".18"/><rect x="0" y="1355" width="36" height="1" fill="#000" opacity=".12"/><rect x="0" y="227" width="36" height="1" fill="#000" opacity=".14"/><rect x="0" y="859" width="36" height="1" fill="#000" opacity=".24"/><rect x="0" y="335" width="36" height="1" fill="#000" opacity=".16"/><rect x="0" y="330" width="36" height="1" fill="#000" opacity=".22"/><rect x="0" y="900" width="36" height="1" fill="#000" opacity=".18"/><rect x="0" y="496" width="36" height="1" fill="#000" opacity=".2"/><rect x="0" y="302" width="36" height="1" fill="#000" opacity=".23"/><rect x="0" y="1254" width="36" height="1" fill="#000" opacity=".17"/><rect x="0" y="654" width="36" height="1" fill="#000" opacity=".23"/><rect x="0" y="279" width="36" height="1" fill="#000" opacity=".26"/><rect x="0" y="433" width="36" height="1" fill="#000" opacity=".17"/><rect x="0" y="742" width="36" height="1" fill="#000" opacity=".11"/><rect x="0" y="548" width="36" height="1" fill="#000" opacity=".2"/><rect x="0" y="1367" width="36" height="1" fill="#000" opacity=".11"/><rect x="0" y="1416" width="36" height="1" fill="#000" opacity=".19"/><rect x="0" y="1377" width="36" height="1" fill="#000" opacity=".25"/><rect x="0" y="310" width="36" height="1" fill="#000" opacity=".15"/><rect x="0" y="542" width="36" height="1" fill="#000" opacity=".19"/><rect x="0" y="986" width="36" height="1" fill="#000" opacity=".17"/><rect x="0" y="213" width="36" height="1" fill="#000" opacity=".12"/><rect x="0" y="1181" width="36" height="1" fill="#000" opacity=".13"/><rect x="0" y="670" width="36" height="1" fill="#000" opacity=".28"/><rect x="0" y="630" width="36" height="1" fill="#000" opacity=".19"/><rect x="0" y="538" width="36" height="1" fill="#000" opacity=".11"/><rect x="0" y="669" width="36" height="1" fill="#000" opacity=".21"/><rect x="0" y="202" width="36" height="1" fill="#000" opacity=".2"/><rect x="0" y="1414" width="36" height="1" fill="#000" opacity=".2"/><rect x="0" y="611" width="36" height="1" fill="#000" opacity=".12"/><rect x="0" y="751" width="36" height="1" fill="#000" opacity=".3"/><rect x="0" y="597" width="36" height="1" fill="#000" opacity=".24"/><rect x="0" y="1161" width="36" height="1" fill="#000" opacity=".14"/><rect x="0" y="888" width="36" height="1" fill="#000" opacity=".23"/><rect x="0" y="1032" width="36" height="1" fill="#000" opacity=".15"/><rect x="0" y="994" width="36" height="1" fill="#000" opacity=".18"/><rect x="0" y="339" width="36" height="1" fill="#000" opacity=".15"/><rect x="0" y="527" width="36" height="1" fill="#000" opacity=".14"/><rect x="0" y="371" width="36" height="1" fill="#000" opacity=".2"/><rect x="0" y="539" width="36" height="1" fill="#000" opacity=".19"/><rect x="0" y="1054" width="36" height="1" fill="#000" opacity=".29"/><rect x="0" y="400" width="36" height="1" fill="#000" opacity=".24"/><rect x="0" y="559" width="36" height="1" fill="#000" opacity=".25"/><rect x="0" y="843" width="36" height="1" fill="#000" opacity=".14"/><rect x="0" y="311" width="36" height="1" fill="#000" opacity=".18"/><rect x="0" y="174" width="36" height="1" fill="#000" opacity=".27"/><rect x="0" y="1417" width="36" height="1" fill="#000" opacity=".17"/><rect x="0" y="833" width="36" height="1" fill="#000" opacity=".22"/><rect x="0" y="1090" width="36" height="1" fill="#000" opacity=".17"/><rect x="0" y="356" width="36" height="1" fill="#000" opacity=".21"/><rect x="0" y="987" width="36" height="1" fill="#000" opacity=".15"/><rect x="0" y="1448" width="36" height="1" fill="#000" opacity=".25"/><rect x="0" y="760" width="36" height="1" fill="#000" opacity=".11"/><rect x="0" y="361" width="36" height="1" fill="#000" opacity=".13"/><rect x="0" y="231" width="36" height="1" fill="#000" opacity=".23"/><rect x="0" y="1352" width="36" height="1" fill="#000" opacity=".2"/><rect x="0" y="1162" width="36" height="1" fill="#000" opacity=".14"/><rect x="0" y="884" width="36" height="1" fill="#000" opacity=".14"/><rect x="0" y="867" width="36" height="1" fill="#000" opacity=".22"/><rect x="0" y="382" width="36" height="1" fill="#000" opacity=".24"/><rect x="0" y="154" width="36" height="1" fill="#000" opacity=".29"/><rect x="0" y="504" width="36" height="1" fill="#000" opacity=".18"/><rect x="0" y="1116" width="36" height="1" fill="#000" opacity=".19"/><rect x="0" y="346" width="36" height="1" fill="#000" opacity=".11"/><rect x="0" y="605" width="36" height="1" fill="#000" opacity=".25"/><rect x="0" y="1289" width="36" height="1" fill="#000" opacity=".29"/><rect x="0" y="584" width="36" height="1" fill="#000" opacity=".24"/><rect x="0" y="221" width="36" height="1" fill="#000" opacity=".12"/><rect x="0" y="853" width="36" height="1" fill="#000" opacity=".12"/><rect x="0" y="1185" width="36" height="1" fill="#000" opacity=".28"/><rect x="0" y="264" width="36" height="1" fill="#000" opacity=".27"/><rect x="0" y="773" width="36" height="1" fill="#000" opacity=".11"/><rect x="0" y="690" width="36" height="1" fill="#000" opacity=".16"/><rect x="0" y="767" width="36" height="1" fill="#000" opacity=".11"/><rect x="0" y="968" width="36" height="1" fill="#000" opacity=".18"/><rect x="0" y="1217" width="36" height="1" fill="#000" opacity=".1"/><rect x="0" y="890" width="36" height="1" fill="#000" opacity=".23"/><rect x="0" y="1060" width="36" height="1" fill="#000" opacity=".18"/><rect x="0" y="850" width="36" height="1" fill="#000" opacity=".16"/><rect x="0" y="568" width="36" height="1" fill="#000" opacity=".21"/><rect x="0" y="696" width="36" height="1" fill="#000" opacity=".23"/><rect x="0" y="1058" width="36" height="1" fill="#000" opacity=".13"/><rect x="0" y="762" width="36" height="1" fill="#000" opacity=".24"/><rect x="0" y="677" width="36" height="1" fill="#000" opacity=".28"/><rect x="0" y="1091" width="36" height="1" fill="#000" opacity=".19"/><rect x="0" y="882" width="36" height="1" fill="#000" opacity=".16"/><rect x="0" y="682" width="36" height="1" fill="#000" opacity=".14"/><rect x="0" y="860" width="36" height="1" fill="#000" opacity=".13"/><rect x="0" y="1096" width="36" height="1" fill="#000" opacity=".15"/><rect x="0" y="975" width="36" height="1" fill="#000" opacity=".13"/><rect x="0" y="659" width="36" height="1" fill="#000" opacity=".24"/><rect x="0" y="1350" width="36" height="1" fill="#000" opacity=".29"/><rect x="0" y="259" width="36" height="1" fill="#000" opacity=".24"/><rect x="0" y="1067" width="36" height="1" fill="#000" opacity=".26"/><rect x="0" y="1097" width="36" height="1" fill="#000" opacity=".28"/><rect x="0" y="1292" width="36" height="1" fill="#000" opacity=".11"/><rect x="0" y="1021" width="36" height="1" fill="#000" opacity=".25"/><rect x="0" y="286" width="36" height="1" fill="#000" opacity=".12"/><rect x="0" y="327" width="36" height="1" fill="#000" opacity=".29"/><rect x="0" y="582" width="36" height="1" fill="#000" opacity=".17"/><rect x="0" y="868" width="36" height="1" fill="#808080" opacity=".03"/><rect x="0" y="116" width="36" height="1" fill="#808080" opacity=".04"/><rect x="0" y="737" width="36" height="1" fill="#808080" opacity=".03"/><rect x="0" y="510" width="36" height="1" fill="#808080" opacity=".05"/><rect x="0" y="388" width="36" height="1" fill="#808080" opacity=".05"/><rect x="0" y="1300" width="36" height="1" fill="#808080" opacity=".04"/><rect x="0" y="135" width="36" height="1" fill="#808080" opacity=".05"/><rect x="0" y="463" width="36" height="1" fill="#808080" opacity=".04"/><rect x="0" y="1197" width="36" height="1" fill="#808080" opacity=".05"/><rect x="0" y="121" width="36" height="1" fill="#808080" opacity=".03"/><rect x="0" y="1012" width="36" height="1" fill="#808080" opacity=".05"/><rect x="0" y="476" width="36" height="1" fill="#808080" opacity=".02"/><rect x="0" y="665" width="36" height="1" fill="#808080" opacity=".04"/><rect x="0" y="722" width="36" height="1" fill="#808080" opacity=".04"/><rect x="0" y="935" width="36" height="1" fill="#808080" opacity=".04"/><rect x="0" y="262" width="36" height="1" fill="#808080" opacity=".03"/><rect x="0" y="562" width="36" height="1" fill="#808080" opacity=".02"/><rect x="0" y="764" width="36" height="1" fill="#808080" opacity=".05"/><rect x="0" y="624" width="36" height="1" fill="#808080" opacity=".05"/><rect x="0" y="977" width="36" height="1" fill="#808080" opacity=".05"/><rect x="0" y="355" width="36" height="1" fill="#808080" opacity=".03"/><rect x="0" y="1077" width="36" height="1" fill="#808080" opacity=".02"/><rect x="0" y="791" width="36" height="1" fill="#808080" opacity=".03"/><rect x="0" y="569" width="36" height="1" fill="#808080" opacity=".04"/><rect x="0" y="397" width="36" height="1" fill="#808080" opacity=".04"/><rect x="0" y="423" width="36" height="1" fill="#808080" opacity=".03"/><rect x="0" y="1314" width="36" height="1" fill="#808080" opacity=".05"/><rect x="0" y="276" width="36" height="1" fill="#808080" opacity=".03"/><rect x="0" y="1168" width="36" height="1" fill="#808080" opacity=".05"/><rect x="0" y="1244" width="36" height="1" fill="#808080" opacity=".04"/><rect x="0" y="275" width="36" height="1" fill="#808080" opacity=".04"/><rect x="0" y="426" width="36" height="1" fill="#808080" opacity=".04"/><rect x="0" y="389" width="36" height="1" fill="#808080" opacity=".03"/><rect x="0" y="662" width="36" height="1" fill="#808080" opacity=".03"/><rect x="0" y="1157" width="36" height="1" fill="#808080" opacity=".03"/><rect x="0" y="249" width="36" height="1" fill="#808080" opacity=".04"/><rect x="0" y="576" width="36" height="1" fill="#808080" opacity=".03"/><rect x="0" y="434" width="36" height="1" fill="#808080" opacity=".02"/><rect x="0" y="951" width="36" height="1" fill="#808080" opacity=".05"/><rect x="0" y="637" width="36" height="1" fill="#808080" opacity=".04"/><rect x="0" y="289" width="36" height="1" fill="#808080" opacity=".05"/><rect x="0" y="347" width="36" height="1" fill="#808080" opacity=".04"/><rect x="0" y="784" width="36" height="1" fill="#808080" opacity=".05"/><rect x="0" y="1248" width="36" height="1" fill="#808080" opacity=".05"/><rect x="0" y="1335" width="36" height="1" fill="#808080" opacity=".04"/></g>
<g id="p0"><rect x="0" y="115.5" width="36" height="1388" fill="url(#g1b)"/><rect x="0" y="115.5" width="1.03" height="1388" fill="url(#g1L)" opacity=".99"/><rect x="1" y="115.5" width="1.03" height="1388" fill="url(#g1L)" opacity=".969"/><rect x="2" y="115.5" width="1.03" height="1388" fill="url(#g1L)" opacity=".948"/><rect x="3" y="115.5" width="1.03" height="1388" fill="url(#g1L)" opacity=".927"/><rect x="4" y="115.5" width="1.03" height="1388" fill="url(#g1L)" opacity=".905"/><rect x="5" y="115.5" width="1.03" height="1388" fill="url(#g1L)" opacity=".884"/><rect x="6" y="115.5" width="1.03" height="1388" fill="url(#g1L)" opacity=".862"/><rect x="7" y="115.5" width="1.03" height="1388" fill="url(#g1L)" opacity=".84"/><rect x="8" y="115.5" width="1.03" height="1388" fill="url(#g1L)" opacity=".818"/><rect x="9" y="115.5" width="1.03" height="1388" fill="url(#g1B0)" opacity=".032"/><rect x="9" y="115.5" width="1.03" height="1388" fill="url(#g1L)" opacity=".795"/><rect x="10" y="115.5" width="1.03" height="1388" fill="url(#g1B0)" opacity=".056"/><rect x="10" y="115.5" width="1.03" height="1388" fill="url(#g1L)" opacity=".772"/><rect x="11" y="115.5" width="1.03" height="1388" fill="url(#g1B0)" opacity=".091"/><rect x="11" y="115.5" width="1.03" height="1388" fill="url(#g1L)" opacity=".749"/><rect x="12" y="115.5" width="1.03" height="1388" fill="url(#g1B0)" opacity=".141"/><rect x="12" y="115.5" width="1.03" height="1388" fill="url(#g1L)" opacity=".726"/><rect x="13" y="115.5" width="1.03" height="1388" fill="url(#g1B0)" opacity=".205"/><rect x="13" y="115.5" width="1.03" height="1388" fill="url(#g1L)" opacity=".702"/><rect x="14" y="115.5" width="1.03" height="1388" fill="url(#g1B0)" opacity=".283"/><rect x="14" y="115.5" width="1.03" height="1388" fill="url(#g1L)" opacity=".678"/><rect x="15" y="115.5" width="1.03" height="1388" fill="url(#g1B0)" opacity=".368"/><rect x="15" y="115.5" width="1.03" height="1388" fill="url(#g1L)" opacity=".653"/><rect x="16" y="115.5" width="1.03" height="1388" fill="url(#g1B0)" opacity=".453"/><rect x="16" y="115.5" width="1.03" height="1388" fill="url(#g1N)" opacity=".087"/><rect x="16" y="115.5" width="1.03" height="1388" fill="url(#g1L)" opacity=".628"/><rect x="17" y="115.5" width="1.03" height="1388" fill="url(#g1B0)" opacity=".526"/><rect x="17" y="115.5" width="1.03" height="1388" fill="url(#g1N)" opacity=".24"/><rect x="17" y="115.5" width="1.03" height="1388" fill="url(#g1L)" opacity=".603"/><rect x="18" y="115.5" width="1.03" height="1388" fill="url(#g1B0)" opacity=".578"/><rect x="18" y="115.5" width="1.03" height="1388" fill="url(#g1N)" opacity=".501"/><rect x="18" y="115.5" width="1.03" height="1388" fill="url(#g1L)" opacity=".577"/><rect x="19" y="115.5" width="1.03" height="1388" fill="url(#g1B0)" opacity=".6"/><rect x="19" y="115.5" width="1.03" height="1388" fill="url(#g1N)" opacity=".791"/><rect x="19" y="115.5" width="1.03" height="1388" fill="url(#g1L)" opacity=".551"/><rect x="20" y="115.5" width="1.03" height="1388" fill="url(#g1B0)" opacity=".588"/><rect x="20" y="115.5" width="1.03" height="1388" fill="url(#g1N)" opacity=".947"/><rect x="20" y="115.5" width="1.03" height="1388" fill="url(#g1L)" opacity=".524"/><rect x="21" y="115.5" width="1.03" height="1388" fill="url(#g1B0)" opacity=".545"/><rect x="21" y="115.5" width="1.03" height="1388" fill="url(#g1N)" opacity=".86"/><rect x="21" y="115.5" width="1.03" height="1388" fill="url(#g1L)" opacity=".496"/><rect x="22" y="115.5" width="1.03" height="1388" fill="url(#g1B0)" opacity=".477"/><rect x="22" y="115.5" width="1.03" height="1388" fill="url(#g1N)" opacity=".591"/><rect x="22" y="115.5" width="1.03" height="1388" fill="url(#g1L)" opacity=".468"/><rect x="23" y="115.5" width="1.03" height="1388" fill="url(#g1B0)" opacity=".394"/><rect x="23" y="115.5" width="1.03" height="1388" fill="url(#g1N)" opacity=".308"/><rect x="23" y="115.5" width="1.03" height="1388" fill="url(#g1L)" opacity=".439"/><rect x="24" y="115.5" width="1.03" height="1388" fill="url(#g1B0)" opacity=".308"/><rect x="24" y="115.5" width="1.03" height="1388" fill="url(#g1N)" opacity=".122"/><rect x="24" y="115.5" width="1.03" height="1388" fill="url(#g1L)" opacity=".41"/><rect x="25" y="115.5" width="1.03" height="1388" fill="url(#g1B0)" opacity=".227"/><rect x="25" y="115.5" width="1.03" height="1388" fill="url(#g1N)" opacity=".037"/><rect x="25" y="115.5" width="1.03" height="1388" fill="url(#g1L)" opacity=".379"/><rect x="26" y="115.5" width="1.03" height="1388" fill="url(#g1B0)" opacity=".159"/><rect x="26" y="115.5" width="1.03" height="1388" fill="url(#g1D)" opacity=".333"/><rect x="26" y="115.5" width="1.03" height="1388" fill="url(#g1L)" opacity=".347"/><rect x="27" y="115.5" width="1.03" height="1388" fill="url(#g1B0)" opacity=".105"/><rect x="27" y="115.5" width="1.03" height="1388" fill="url(#g1D)" opacity=".667"/><rect x="27" y="115.5" width="1.03" height="1388" fill="url(#g1L)" opacity=".314"/><rect x="28" y="115.5" width="1.03" height="1388" fill="url(#g1B0)" opacity=".065"/><rect x="28" y="115.5" width="1.03" height="1388" fill="url(#g1D)" opacity="1"/><rect x="28" y="115.5" width="1.03" height="1388" fill="url(#g1L)" opacity=".279"/><rect x="29" y="115.5" width="1.03" height="1388" fill="url(#g1B0)" opacity=".038"/><rect x="29" y="115.5" width="1.03" height="1388" fill="url(#g1D)" opacity="1"/><rect x="29" y="115.5" width="1.03" height="1388" fill="url(#g1L)" opacity=".243"/><rect x="30" y="115.5" width="1.03" height="1388" fill="url(#g1D)" opacity="1"/><rect x="30" y="115.5" width="1.03" height="1388" fill="url(#g1L)" opacity=".204"/><rect x="31" y="115.5" width="1.03" height="1388" fill="url(#g1D)" opacity="1"/><rect x="31" y="115.5" width="1.03" height="1388" fill="url(#g1L)" opacity=".161"/><rect x="32" y="115.5" width="1.03" height="1388" fill="url(#g1D)" opacity="1"/><rect x="32" y="115.5" width="1.03" height="1388" fill="url(#g1L)" opacity=".113"/><rect x="33" y="115.5" width="1.03" height="1388" fill="url(#g1D)" opacity="1"/><rect x="33" y="115.5" width="1.03" height="1388" fill="url(#g1L)" opacity=".052"/><rect x="34" y="115.5" width="1.03" height="1388" fill="url(#g1D)" opacity="1"/><rect x="35" y="115.5" width="1.03" height="1388" fill="url(#g1D)" opacity="1"/><rect x="0" y="115.5" width="1.03" height="1388" fill="url(#g1E)" opacity="1"/><rect x="35" y="115.5" width="1.03" height="1388" fill="url(#g1E)" opacity=".45"/><rect x="0" y="238.18" width="36" height="1.43" fill="#808080" opacity=".31"/><rect x="0" y="243.39" width="36" height="1.43" fill="#808080" opacity=".3"/><rect x="0" y="249.25" width="36" height="1.21" fill="#808080" opacity=".26"/><rect x="0" y="251.17" width="36" height="1.21" fill="#808080" opacity=".2"/><rect x="0" y="257.37" width="36" height="1.43" fill="#808080" opacity=".22"/><rect x="0" y="262.86" width="36" height="1.43" fill="#808080" opacity=".3"/><rect x="0" y="418.77" width="36" height="1.65" fill="#808080" opacity=".1"/><rect x="0" y="285.92" width="36" height="1.92" fill="#808080" opacity=".05"/><rect x="0" y="719.29" width="36" height="1.1" fill="#000" opacity=".35"/><rect x="0" y="875.86" width="36" height="1.1" fill="#000" opacity=".35"/><rect x="0" y="1108.16" width="36" height=".99" fill="#000" opacity=".3"/><rect x="0" y="1179.45" width="36" height=".99" fill="#000" opacity=".25"/><rect x="0" y="1327.52" width="36" height=".99" fill="#000" opacity=".3"/><rect x="0" y="432.2" width="36" height="1.1" fill="#000" opacity=".25"/><rect x="0" y="519.12" width="36" height="1.1" fill="#000" opacity=".28"/><rect x="0" y="1494.2" width="36" height="1.04" fill="#000" opacity=".6"/><rect x="0" y="1499.72" width="36" height=".99" fill="#000" opacity=".4"/><rect x="0" y="1476.41" width="36" height=".99" fill="#000" opacity=".25"/><rect x="0" y="1481.62" width="36" height=".99" fill="#000" opacity=".2"/><rect x="0" y="1487.98" width="36" height=".88" fill="#000" opacity=".25"/><use href="#hl1"/><rect x="13.7" y="418.79" width="12.2" height="1.59" fill="#909090" opacity=".68"/></g>
<g id="p1"><rect x="0" y="115.5" width="36" height="1388" fill="url(#g1b)"/><rect x="0" y="115.5" width="1.03" height="1388" fill="url(#g1A)" opacity=".035"/><rect x="0" y="115.5" width="1.03" height="1388" fill="url(#g1L)" opacity=".779"/><rect x="1" y="115.5" width="1.03" height="1388" fill="url(#g1A)" opacity=".103"/><rect x="1" y="115.5" width="1.03" height="1388" fill="url(#g1L)" opacity=".735"/><rect x="2" y="115.5" width="1.03" height="1388" fill="url(#g1A)" opacity=".242"/><rect x="2" y="115.5" width="1.03" height="1388" fill="url(#g1L)" opacity=".691"/><rect x="3" y="115.5" width="1.03" height="1388" fill="url(#g1A)" opacity=".451"/><rect x="3" y="115.5" width="1.03" height="1388" fill="url(#g1L)" opacity=".647"/><rect x="4" y="115.5" width="1.03" height="1388" fill="url(#g1A)" opacity=".67"/><rect x="4" y="115.5" width="1.03" height="1388" fill="url(#g1L)" opacity=".601"/><rect x="5" y="115.5" width="1.03" height="1388" fill="url(#g1A)" opacity=".794"/><rect x="5" y="115.5" width="1.03" height="1388" fill="url(#g1L)" opacity=".555"/><rect x="6" y="115.5" width="1.03" height="1388" fill="url(#g1A)" opacity=".751"/><rect x="6" y="115.5" width="1.03" height="1388" fill="url(#g1L)" opacity=".508"/><rect x="7" y="115.5" width="1.03" height="1388" fill="url(#g1A)" opacity=".565"/><rect x="7" y="115.5" width="1.03" height="1388" fill="url(#g1L)" opacity=".459"/><rect x="8" y="115.5" width="1.03" height="1388" fill="url(#g1A)" opacity=".339"/><rect x="8" y="115.5" width="1.03" height="1388" fill="url(#g1L)" opacity=".41"/><rect x="9" y="115.5" width="1.03" height="1388" fill="url(#g1A)" opacity=".162"/><rect x="9" y="115.5" width="1.03" height="1388" fill="url(#g1L)" opacity=".359"/><rect x="10" y="115.5" width="1.03" height="1388" fill="url(#g1A)" opacity=".062"/><rect x="10" y="115.5" width="1.03" height="1388" fill="url(#g1L)" opacity=".305"/><rect x="11" y="115.5" width="1.03" height="1388" fill="url(#g1L)" opacity=".25"/><rect x="12" y="115.5" width="1.03" height="1388" fill="url(#g1B1)" opacity=".035"/><rect x="12" y="115.5" width="1.03" height="1388" fill="url(#g1L)" opacity=".191"/><rect x="13" y="115.5" width="1.03" height="1388" fill="url(#g1B1)" opacity=".068"/><rect x="13" y="115.5" width="1.03" height="1388" fill="url(#g1L)" opacity=".127"/><rect x="14" y="115.5" width="1.03" height="1388" fill="url(#g1B1)" opacity=".122"/><rect x="14" y="115.5" width="1.03" height="1388" fill="url(#g1L)" opacity=".053"/><rect x="15" y="115.5" width="1.03" height="1388" fill="url(#g1B1)" opacity=".2"/><rect x="16" y="115.5" width="1.03" height="1388" fill="url(#g1B1)" opacity=".302"/><rect x="16" y="115.5" width="1.03" height="1388" fill="url(#g1N)" opacity=".046"/><rect x="17" y="115.5" width="1.03" height="1388" fill="url(#g1B1)" opacity=".418"/><rect x="17" y="115.5" width="1.03" height="1388" fill="url(#g1N)" opacity=".127"/><rect x="18" y="115.5" width="1.03" height="1388" fill="url(#g1B1)" opacity=".53"/><rect x="18" y="115.5" width="1.03" height="1388" fill="url(#g1N)" opacity=".264"/><rect x="19" y="115.5" width="1.03" height="1388" fill="url(#g1B1)" opacity=".617"/><rect x="19" y="115.5" width="1.03" height="1388" fill="url(#g1N)" opacity=".416"/><rect x="20" y="115.5" width="1.03" height="1388" fill="url(#g1B1)" opacity=".658"/><rect x="20" y="115.5" width="1.03" height="1388" fill="url(#g1N)" opacity=".498"/><rect x="21" y="115.5" width="1.03" height="1388" fill="url(#g1B1)" opacity=".644"/><rect x="21" y="115.5" width="1.03" height="1388" fill="url(#g1N)" opacity=".452"/><rect x="22" y="115.5" width="1.03" height="1388" fill="url(#g1B1)" opacity=".578"/><rect x="22" y="115.5" width="1.03" height="1388" fill="url(#g1N)" opacity=".311"/><rect x="23" y="115.5" width="1.03" height="1388" fill="url(#g1B1)" opacity=".476"/><rect x="23" y="115.5" width="1.03" height="1388" fill="url(#g1N)" opacity=".162"/><rect x="24" y="115.5" width="1.03" height="1388" fill="url(#g1B1)" opacity=".359"/><rect x="24" y="115.5" width="1.03" height="1388" fill="url(#g1N)" opacity=".064"/><rect x="25" y="115.5" width="1.03" height="1388" fill="url(#g1B1)" opacity=".249"/><rect x="26" y="115.5" width="1.03" height="1388" fill="url(#g1B1)" opacity=".158"/><rect x="26" y="115.5" width="1.03" height="1388" fill="url(#g1D)" opacity=".333"/><rect x="27" y="115.5" width="1.03" height="1388" fill="url(#g1B1)" opacity=".092"/><rect x="27" y="115.5" width="1.03" height="1388" fill="url(#g1D)" opacity=".667"/><rect x="28" y="115.5" width="1.03" height="1388" fill="url(#g1B1)" opacity=".049"/><rect x="28" y="115.5" width="1.03" height="1388" fill="url(#g1D)" opacity="1"/><rect x="29" y="115.5" width="1.03" height="1388" fill="url(#g1D)" opacity="1"/><rect x="30" y="115.5" width="1.03" height="1388" fill="url(#g1D)" opacity="1"/><rect x="31" y="115.5" width="1.03" height="1388" fill="url(#g1D)" opacity="1"/><rect x="32" y="115.5" width="1.03" height="1388" fill="url(#g1D)" opacity="1"/><rect x="33" y="115.5" width="1.03" height="1388" fill="url(#g1D)" opacity="1"/><rect x="34" y="115.5" width="1.03" height="1388" fill="url(#g1D)" opacity="1"/><rect x="35" y="115.5" width="1.03" height="1388" fill="url(#g1D)" opacity="1"/><rect x="0" y="115.5" width="1.03" height="1388" fill="url(#g1E)" opacity="1"/><rect x="35" y="115.5" width="1.03" height="1388" fill="url(#g1E)" opacity=".45"/><rect x="0" y="238.18" width="36" height="1.43" fill="#808080" opacity=".31"/><rect x="0" y="243.39" width="36" height="1.43" fill="#808080" opacity=".3"/><rect x="0" y="249.25" width="36" height="1.21" fill="#808080" opacity=".26"/><rect x="0" y="251.17" width="36" height="1.21" fill="#808080" opacity=".2"/><rect x="0" y="257.37" width="36" height="1.43" fill="#808080" opacity=".22"/><rect x="0" y="262.86" width="36" height="1.43" fill="#808080" opacity=".3"/><rect x="0" y="418.77" width="36" height="1.65" fill="#808080" opacity=".1"/><rect x="0" y="285.92" width="36" height="1.92" fill="#808080" opacity=".05"/><rect x="0" y="719.29" width="36" height="1.1" fill="#000" opacity=".35"/><rect x="0" y="875.86" width="36" height="1.1" fill="#000" opacity=".35"/><rect x="0" y="1108.16" width="36" height=".99" fill="#000" opacity=".3"/><rect x="0" y="1179.45" width="36" height=".99" fill="#000" opacity=".25"/><rect x="0" y="1327.52" width="36" height=".99" fill="#000" opacity=".3"/><rect x="0" y="432.2" width="36" height="1.1" fill="#000" opacity=".25"/><rect x="0" y="519.12" width="36" height="1.1" fill="#000" opacity=".28"/><rect x="0" y="1494.2" width="36" height="1.04" fill="#000" opacity=".6"/><rect x="0" y="1499.72" width="36" height=".99" fill="#000" opacity=".4"/><rect x="0" y="1476.41" width="36" height=".99" fill="#000" opacity=".25"/><rect x="0" y="1481.62" width="36" height=".99" fill="#000" opacity=".2"/><rect x="0" y="1487.98" width="36" height=".88" fill="#000" opacity=".25"/><use href="#hl1"/><rect x="15.7" y="418.79" width="10.4" height="1.59" fill="#989898" opacity=".78"/><rect x="3.3" y="418.85" width="6.6" height="1.48" fill="#8c8c8c" opacity=".72"/></g>
<g id="p2"><rect x="0" y="115.5" width="36" height="1388" fill="url(#g1b)"/><rect x="0" y="115.5" width="1.03" height="1388" fill="url(#g1A)" opacity=".04"/><rect x="0" y="115.5" width="1.03" height="1388" fill="url(#g1L)" opacity=".759"/><rect x="1" y="115.5" width="1.03" height="1388" fill="url(#g1A)" opacity=".116"/><rect x="1" y="115.5" width="1.03" height="1388" fill="url(#g1L)" opacity=".717"/><rect x="2" y="115.5" width="1.03" height="1388" fill="url(#g1A)" opacity=".272"/><rect x="2" y="115.5" width="1.03" height="1388" fill="url(#g1L)" opacity=".674"/><rect x="3" y="115.5" width="1.03" height="1388" fill="url(#g1A)" opacity=".507"/><rect x="3" y="115.5" width="1.03" height="1388" fill="url(#g1L)" opacity=".631"/><rect x="4" y="115.5" width="1.03" height="1388" fill="url(#g1A)" opacity=".754"/><rect x="4" y="115.5" width="1.03" height="1388" fill="url(#g1L)" opacity=".586"/><rect x="5" y="115.5" width="1.03" height="1388" fill="url(#g1A)" opacity=".894"/><rect x="5" y="115.5" width="1.03" height="1388" fill="url(#g1L)" opacity=".541"/><rect x="6" y="115.5" width="1.03" height="1388" fill="url(#g1A)" opacity=".844"/><rect x="6" y="115.5" width="1.03" height="1388" fill="url(#g1L)" opacity=".495"/><rect x="7" y="115.5" width="1.03" height="1388" fill="url(#g1A)" opacity=".636"/><rect x="7" y="115.5" width="1.03" height="1388" fill="url(#g1L)" opacity=".448"/><rect x="8" y="115.5" width="1.03" height="1388" fill="url(#g1A)" opacity=".382"/><rect x="8" y="115.5" width="1.03" height="1388" fill="url(#g1L)" opacity=".4"/><rect x="9" y="115.5" width="1.03" height="1388" fill="url(#g1A)" opacity=".183"/><rect x="9" y="115.5" width="1.03" height="1388" fill="url(#g1L)" opacity=".35"/><rect x="10" y="115.5" width="1.03" height="1388" fill="url(#g1A)" opacity=".07"/><rect x="10" y="115.5" width="1.03" height="1388" fill="url(#g1L)" opacity=".298"/><rect x="11" y="115.5" width="1.03" height="1388" fill="url(#g1L)" opacity=".243"/><rect x="12" y="115.5" width="1.03" height="1388" fill="url(#g1B2)" opacity=".045"/><rect x="12" y="115.5" width="1.03" height="1388" fill="url(#g1L)" opacity=".186"/><rect x="13" y="115.5" width="1.03" height="1388" fill="url(#g1B2)" opacity=".088"/><rect x="13" y="115.5" width="1.03" height="1388" fill="url(#g1L)" opacity=".124"/><rect x="14" y="115.5" width="1.03" height="1388" fill="url(#g1B2)" opacity=".157"/><rect x="14" y="115.5" width="1.03" height="1388" fill="url(#g1L)" opacity=".051"/><rect x="15" y="115.5" width="1.03" height="1388" fill="url(#g1B2)" opacity=".258"/><rect x="16" y="115.5" width="1.03" height="1388" fill="url(#g1B2)" opacity=".389"/><rect x="16" y="115.5" width="1.03" height="1388" fill="url(#g1N)" opacity=".074"/><rect x="17" y="115.5" width="1.03" height="1388" fill="url(#g1B2)" opacity=".538"/><rect x="17" y="115.5" width="1.03" height="1388" fill="url(#g1N)" opacity=".202"/><rect x="18" y="115.5" width="1.03" height="1388" fill="url(#g1B2)" opacity=".683"/><rect x="18" y="115.5" width="1.03" height="1388" fill="url(#g1N)" opacity=".422"/><rect x="19" y="115.5" width="1.03" height="1388" fill="url(#g1B2)" opacity=".794"/><rect x="19" y="115.5" width="1.03" height="1388" fill="url(#g1N)" opacity=".666"/><rect x="20" y="115.5" width="1.03" height="1388" fill="url(#g1B2)" opacity=".848"/><rect x="20" y="115.5" width="1.03" height="1388" fill="url(#g1N)" opacity=".798"/><rect x="21" y="115.5" width="1.03" height="1388" fill="url(#g1B2)" opacity=".83"/><rect x="21" y="115.5" width="1.03" height="1388" fill="url(#g1N)" opacity=".724"/><rect x="22" y="115.5" width="1.03" height="1388" fill="url(#g1B2)" opacity=".745"/><rect x="22" y="115.5" width="1.03" height="1388" fill="url(#g1N)" opacity=".498"/><rect x="23" y="115.5" width="1.03" height="1388" fill="url(#g1B2)" opacity=".613"/><rect x="23" y="115.5" width="1.03" height="1388" fill="url(#g1N)" opacity=".26"/><rect x="24" y="115.5" width="1.03" height="1388" fill="url(#g1B2)" opacity=".463"/><rect x="24" y="115.5" width="1.03" height="1388" fill="url(#g1N)" opacity=".103"/><rect x="25" y="115.5" width="1.03" height="1388" fill="url(#g1B2)" opacity=".32"/><rect x="25" y="115.5" width="1.03" height="1388" fill="url(#g1N)" opacity=".031"/><rect x="26" y="115.5" width="1.03" height="1388" fill="url(#g1B2)" opacity=".203"/><rect x="26" y="115.5" width="1.03" height="1388" fill="url(#g1D)" opacity=".333"/><rect x="27" y="115.5" width="1.03" height="1388" fill="url(#g1B2)" opacity=".118"/><rect x="27" y="115.5" width="1.03" height="1388" fill="url(#g1D)" opacity=".667"/><rect x="28" y="115.5" width="1.03" height="1388" fill="url(#g1B2)" opacity=".063"/><rect x="28" y="115.5" width="1.03" height="1388" fill="url(#g1D)" opacity="1"/><rect x="29" y="115.5" width="1.03" height="1388" fill="url(#g1B2)" opacity=".031"/><rect x="29" y="115.5" width="1.03" height="1388" fill="url(#g1D)" opacity="1"/><rect x="30" y="115.5" width="1.03" height="1388" fill="url(#g1D)" opacity="1"/><rect x="31" y="115.5" width="1.03" height="1388" fill="url(#g1D)" opacity="1"/><rect x="32" y="115.5" width="1.03" height="1388" fill="url(#g1D)" opacity="1"/><rect x="33" y="115.5" width="1.03" height="1388" fill="url(#g1D)" opacity="1"/><rect x="34" y="115.5" width="1.03" height="1388" fill="url(#g1D)" opacity="1"/><rect x="35" y="115.5" width="1.03" height="1388" fill="url(#g1D)" opacity="1"/><rect x="0" y="115.5" width="1.03" height="1388" fill="url(#g1E)" opacity="1"/><rect x="35" y="115.5" width="1.03" height="1388" fill="url(#g1E)" opacity=".45"/><rect x="0" y="238.18" width="36" height="1.43" fill="#808080" opacity=".31"/><rect x="0" y="243.39" width="36" height="1.43" fill="#808080" opacity=".3"/><rect x="0" y="249.25" width="36" height="1.21" fill="#808080" opacity=".26"/><rect x="0" y="251.17" width="36" height="1.21" fill="#808080" opacity=".2"/><rect x="0" y="257.37" width="36" height="1.43" fill="#808080" opacity=".22"/><rect x="0" y="262.86" width="36" height="1.43" fill="#808080" opacity=".3"/><rect x="0" y="418.77" width="36" height="1.65" fill="#808080" opacity=".1"/><rect x="0" y="285.92" width="36" height="1.92" fill="#808080" opacity=".05"/><rect x="0" y="719.29" width="36" height="1.1" fill="#000" opacity=".35"/><rect x="0" y="875.86" width="36" height="1.1" fill="#000" opacity=".35"/><rect x="0" y="1108.16" width="36" height=".99" fill="#000" opacity=".3"/><rect x="0" y="1179.45" width="36" height=".99" fill="#000" opacity=".25"/><rect x="0" y="1327.52" width="36" height=".99" fill="#000" opacity=".3"/><rect x="0" y="432.2" width="36" height="1.1" fill="#000" opacity=".25"/><rect x="0" y="519.12" width="36" height="1.1" fill="#000" opacity=".28"/><rect x="0" y="1494.2" width="36" height="1.04" fill="#000" opacity=".6"/><rect x="0" y="1499.72" width="36" height=".99" fill="#000" opacity=".4"/><rect x="0" y="1476.41" width="36" height=".99" fill="#000" opacity=".25"/><rect x="0" y="1481.62" width="36" height=".99" fill="#000" opacity=".2"/><rect x="0" y="1487.98" width="36" height=".88" fill="#000" opacity=".25"/><use href="#hl1"/><rect x="15.7" y="418.79" width="10.4" height="1.59" fill="#989898" opacity=".88"/><rect x="3.3" y="418.85" width="6.6" height="1.48" fill="#8c8c8c" opacity=".72"/></g>
<g id="p3"><rect x="0" y="115.5" width="36" height="1388" fill="url(#g1b)"/><rect x="0" y="115.5" width="1.03" height="1388" fill="url(#g1A)" opacity=".04"/><rect x="0" y="115.5" width="1.03" height="1388" fill="url(#g1L)" opacity=".73"/><rect x="1" y="115.5" width="1.03" height="1388" fill="url(#g1A)" opacity=".116"/><rect x="1" y="115.5" width="1.03" height="1388" fill="url(#g1L)" opacity=".689"/><rect x="2" y="115.5" width="1.03" height="1388" fill="url(#g1A)" opacity=".272"/><rect x="2" y="115.5" width="1.03" height="1388" fill="url(#g1L)" opacity=".648"/><rect x="3" y="115.5" width="1.03" height="1388" fill="url(#g1A)" opacity=".507"/><rect x="3" y="115.5" width="1.03" height="1388" fill="url(#g1L)" opacity=".606"/><rect x="4" y="115.5" width="1.03" height="1388" fill="url(#g1A)" opacity=".754"/><rect x="4" y="115.5" width="1.03" height="1388" fill="url(#g1L)" opacity=".564"/><rect x="5" y="115.5" width="1.03" height="1388" fill="url(#g1A)" opacity=".894"/><rect x="5" y="115.5" width="1.03" height="1388" fill="url(#g1L)" opacity=".52"/><rect x="6" y="115.5" width="1.03" height="1388" fill="url(#g1A)" opacity=".844"/><rect x="6" y="115.5" width="1.03" height="1388" fill="url(#g1L)" opacity=".476"/><rect x="7" y="115.5" width="1.03" height="1388" fill="url(#g1A)" opacity=".636"/><rect x="7" y="115.5" width="1.03" height="1388" fill="url(#g1L)" opacity=".431"/><rect x="8" y="115.5" width="1.03" height="1388" fill="url(#g1A)" opacity=".382"/><rect x="8" y="115.5" width="1.03" height="1388" fill="url(#g1L)" opacity=".384"/><rect x="9" y="115.5" width="1.03" height="1388" fill="url(#g1A)" opacity=".183"/><rect x="9" y="115.5" width="1.03" height="1388" fill="url(#g1L)" opacity=".336"/><rect x="10" y="115.5" width="1.03" height="1388" fill="url(#g1A)" opacity=".07"/><rect x="10" y="115.5" width="1.03" height="1388" fill="url(#g1L)" opacity=".286"/><rect x="11" y="115.5" width="1.03" height="1388" fill="url(#g1L)" opacity=".234"/><rect x="12" y="115.5" width="1.03" height="1388" fill="url(#g1B3)" opacity=".053"/><rect x="12" y="115.5" width="1.03" height="1388" fill="url(#g1L)" opacity=".179"/><rect x="13" y="115.5" width="1.03" height="1388" fill="url(#g1B3)" opacity=".103"/><rect x="13" y="115.5" width="1.03" height="1388" fill="url(#g1L)" opacity=".119"/><rect x="14" y="115.5" width="1.03" height="1388" fill="url(#g1B3)" opacity=".185"/><rect x="14" y="115.5" width="1.03" height="1388" fill="url(#g1L)" opacity=".049"/><rect x="15" y="115.5" width="1.03" height="1388" fill="url(#g1B3)" opacity=".304"/><rect x="16" y="115.5" width="1.03" height="1388" fill="url(#g1B3)" opacity=".458"/><rect x="16" y="115.5" width="1.03" height="1388" fill="url(#g1N)" opacity=".092"/><rect x="17" y="115.5" width="1.03" height="1388" fill="url(#g1B3)" opacity=".633"/><rect x="17" y="115.5" width="1.03" height="1388" fill="url(#g1N)" opacity=".253"/><rect x="18" y="115.5" width="1.03" height="1388" fill="url(#g1B3)" opacity=".803"/><rect x="18" y="115.5" width="1.03" height="1388" fill="url(#g1N)" opacity=".527"/><rect x="19" y="115.5" width="1.03" height="1388" fill="url(#g1B3)" opacity=".935"/><rect x="19" y="115.5" width="1.03" height="1388" fill="url(#g1N)" opacity=".833"/><rect x="20" y="115.5" width="1.03" height="1388" fill="url(#g1B3)" opacity=".997"/><rect x="20" y="115.5" width="1.03" height="1388" fill="url(#g1N)" opacity=".997"/><rect x="21" y="115.5" width="1.03" height="1388" fill="url(#g1B3)" opacity=".976"/><rect x="21" y="115.5" width="1.03" height="1388" fill="url(#g1N)" opacity=".905"/><rect x="22" y="115.5" width="1.03" height="1388" fill="url(#g1B3)" opacity=".876"/><rect x="22" y="115.5" width="1.03" height="1388" fill="url(#g1N)" opacity=".622"/><rect x="23" y="115.5" width="1.03" height="1388" fill="url(#g1B3)" opacity=".721"/><rect x="23" y="115.5" width="1.03" height="1388" fill="url(#g1N)" opacity=".325"/><rect x="24" y="115.5" width="1.03" height="1388" fill="url(#g1B3)" opacity=".544"/><rect x="24" y="115.5" width="1.03" height="1388" fill="url(#g1N)" opacity=".128"/><rect x="25" y="115.5" width="1.03" height="1388" fill="url(#g1B3)" opacity=".377"/><rect x="25" y="115.5" width="1.03" height="1388" fill="url(#g1N)" opacity=".038"/><rect x="26" y="115.5" width="1.03" height="1388" fill="url(#g1B3)" opacity=".239"/><rect x="26" y="115.5" width="1.03" height="1388" fill="url(#g1D)" opacity=".333"/><rect x="27" y="115.5" width="1.03" height="1388" fill="url(#g1B3)" opacity=".139"/><rect x="27" y="115.5" width="1.03" height="1388" fill="url(#g1D)" opacity=".667"/><rect x="28" y="115.5" width="1.03" height="1388" fill="url(#g1B3)" opacity=".074"/><rect x="28" y="115.5" width="1.03" height="1388" fill="url(#g1D)" opacity="1"/><rect x="29" y="115.5" width="1.03" height="1388" fill="url(#g1B3)" opacity=".036"/><rect x="29" y="115.5" width="1.03" height="1388" fill="url(#g1D)" opacity="1"/><rect x="30" y="115.5" width="1.03" height="1388" fill="url(#g1D)" opacity="1"/><rect x="31" y="115.5" width="1.03" height="1388" fill="url(#g1D)" opacity="1"/><rect x="32" y="115.5" width="1.03" height="1388" fill="url(#g1D)" opacity="1"/><rect x="33" y="115.5" width="1.03" height="1388" fill="url(#g1D)" opacity="1"/><rect x="34" y="115.5" width="1.03" height="1388" fill="url(#g1D)" opacity="1"/><rect x="35" y="115.5" width="1.03" height="1388" fill="url(#g1D)" opacity="1"/><rect x="0" y="115.5" width="1.03" height="1388" fill="url(#g1E)" opacity="1"/><rect x="35" y="115.5" width="1.03" height="1388" fill="url(#g1E)" opacity=".45"/><rect x="0" y="238.18" width="36" height="1.43" fill="#808080" opacity=".31"/><rect x="0" y="243.39" width="36" height="1.43" fill="#808080" opacity=".3"/><rect x="0" y="249.25" width="36" height="1.21" fill="#808080" opacity=".26"/><rect x="0" y="251.17" width="36" height="1.21" fill="#808080" opacity=".2"/><rect x="0" y="257.37" width="36" height="1.43" fill="#808080" opacity=".22"/><rect x="0" y="262.86" width="36" height="1.43" fill="#808080" opacity=".3"/><rect x="0" y="418.77" width="36" height="1.65" fill="#808080" opacity=".1"/><rect x="0" y="285.92" width="36" height="1.92" fill="#808080" opacity=".05"/><rect x="0" y="719.29" width="36" height="1.1" fill="#000" opacity=".35"/><rect x="0" y="875.86" width="36" height="1.1" fill="#000" opacity=".35"/><rect x="0" y="1108.16" width="36" height=".99" fill="#000" opacity=".3"/><rect x="0" y="1179.45" width="36" height=".99" fill="#000" opacity=".25"/><rect x="0" y="1327.52" width="36" height=".99" fill="#000" opacity=".3"/><rect x="0" y="432.2" width="36" height="1.1" fill="#000" opacity=".25"/><rect x="0" y="519.12" width="36" height="1.1" fill="#000" opacity=".28"/><rect x="0" y="1494.2" width="36" height="1.04" fill="#000" opacity=".6"/><rect x="0" y="1499.72" width="36" height=".99" fill="#000" opacity=".4"/><rect x="0" y="1476.41" width="36" height=".99" fill="#000" opacity=".25"/><rect x="0" y="1481.62" width="36" height=".99" fill="#000" opacity=".2"/><rect x="0" y="1487.98" width="36" height=".88" fill="#000" opacity=".25"/><use href="#hl1"/><rect x="15.7" y="418.79" width="10.4" height="1.59" fill="#989898" opacity=".95"/><rect x="3.3" y="418.85" width="6.6" height="1.48" fill="#8c8c8c" opacity=".72"/></g>
<linearGradient id="g2b" gradientUnits="userSpaceOnUse" x1="0" y1="1503.5" x2="0" y2="115.5"><stop offset="0" stop-color="#e6e6e6"/><stop offset=".0209" stop-color="#e6e6e6"/><stop offset=".0237" stop-color="#808080"/><stop offset=".0253" stop-color="#595959"/><stop offset=".0277" stop-color="#393939"/><stop offset=".0312" stop-color="#262626"/><stop offset=".0365" stop-color="#1a1a1a"/><stop offset=".0514" stop-color="#131313"/><stop offset=".0652" stop-color="#111111"/><stop offset=".0713" stop-color="#111111"/><stop offset=".0721" stop-color="#1b1b1b"/><stop offset=".0733" stop-color="#1b1b1b"/><stop offset=".0741" stop-color="#111111"/><stop offset=".0842" stop-color="#111111"/><stop offset=".0849" stop-color="#1b1b1b"/><stop offset=".0861" stop-color="#1b1b1b"/><stop offset=".0869" stop-color="#111111"/><stop offset=".1383" stop-color="#0f0f0f"/><stop offset=".5927" stop-color="#0f0f0f"/><stop offset=".8495" stop-color="#0f0f0f"/><stop offset=".8791" stop-color="#101010"/><stop offset=".8919" stop-color="#111111"/><stop offset=".8939" stop-color="#121212"/><stop offset=".9107" stop-color="#131313"/><stop offset=".9131" stop-color="#111111"/><stop offset="1" stop-color="#111111"/></linearGradient>
<g id="q"><rect x="0" y="115.5" width="36" height="1388" fill="url(#g2b)"/><rect x="0" y="237.38" width="36" height="1.37" fill="#808080" opacity=".18"/><rect x="0" y="243.41" width="36" height="1.37" fill="#808080" opacity=".15"/><rect x="0" y="250" width="36" height="1.37" fill="#808080" opacity=".05"/><rect x="0" y="256.85" width="36" height="1.37" fill="#808080" opacity=".07"/><rect x="0" y="262.61" width="36" height="1.37" fill="#808080" opacity=".09"/><rect x="0" y="152.52" width="36" height="1.1" fill="#808080" opacity=".05"/><rect x="0" y="284.68" width="36" height="1.1" fill="#808080" opacity=".06"/><rect x="0" y="373.52" width="36" height="1.1" fill="#808080" opacity=".05"/><rect x="0" y="598.09" width="36" height="1.1" fill="#808080" opacity=".03"/><rect x="0" y="776.32" width="36" height="1.1" fill="#808080" opacity=".03"/><use href="#hl2"/></g>
<linearGradient id="cbg" x1="0" y1="0" x2="0" y2="1"><stop offset="0" stop-color="#800000"/><stop offset="0.02" stop-color="#8d0000"/><stop offset="0.03" stop-color="#9f0000"/><stop offset="0.05" stop-color="#b20000"/><stop offset="0.06" stop-color="#c40000"/><stop offset="0.08" stop-color="#d60000"/><stop offset="0.09" stop-color="#e80000"/><stop offset="0.11" stop-color="#fa0f00"/><stop offset="0.12" stop-color="#ff1e00"/><stop offset="0.14" stop-color="#ff2d00"/><stop offset="0.16" stop-color="#ff3b00"/><stop offset="0.17" stop-color="#ff4a00"/><stop offset="0.19" stop-color="#ff5900"/><stop offset="0.2" stop-color="#ff6800"/><stop offset="0.22" stop-color="#ff7700"/><stop offset="0.23" stop-color="#ff8600"/><stop offset="0.25" stop-color="#ff9400"/><stop offset="0.27" stop-color="#ffa300"/><stop offset="0.28" stop-color="#ffb200"/><stop offset="0.3" stop-color="#ffc100"/><stop offset="0.31" stop-color="#ffd000"/><stop offset="0.33" stop-color="#ffde00"/><stop offset="0.34" stop-color="#feed00"/><stop offset="0.36" stop-color="#f1fc06"/><stop offset="0.38" stop-color="#e4ff13"/><stop offset="0.39" stop-color="#d7ff1f"/><stop offset="0.41" stop-color="#caff2c"/><stop offset="0.42" stop-color="#beff39"/><stop offset="0.44" stop-color="#b1ff46"/><stop offset="0.45" stop-color="#a4ff53"/><stop offset="0.47" stop-color="#97ff60"/><stop offset="0.48" stop-color="#8aff6d"/><stop offset="0.5" stop-color="#7dff7a"/><stop offset="0.52" stop-color="#70ff87"/><stop offset="0.53" stop-color="#63ff94"/><stop offset="0.55" stop-color="#56ffa0"/><stop offset="0.56" stop-color="#49ffad"/><stop offset="0.58" stop-color="#3cffba"/><stop offset="0.59" stop-color="#30ffc7"/><stop offset="0.61" stop-color="#23ffd4"/><stop offset="0.62" stop-color="#16ffe1"/><stop offset="0.64" stop-color="#09f0ee"/><stop offset="0.66" stop-color="#00e0fb"/><stop offset="0.67" stop-color="#00d0ff"/><stop offset="0.69" stop-color="#00c0ff"/><stop offset="0.7" stop-color="#00b0ff"/><stop offset="0.72" stop-color="#00a0ff"/><stop offset="0.73" stop-color="#0090ff"/><stop offset="0.75" stop-color="#0080ff"/><stop offset="0.77" stop-color="#0070ff"/><stop offset="0.78" stop-color="#0060ff"/><stop offset="0.8" stop-color="#0050ff"/><stop offset="0.81" stop-color="#0040ff"/><stop offset="0.83" stop-color="#0030ff"/><stop offset="0.84" stop-color="#0020ff"/><stop offset="0.86" stop-color="#0010ff"/><stop offset="0.88" stop-color="#0000ff"/><stop offset="0.89" stop-color="#0000ff"/><stop offset="0.91" stop-color="#0000ed"/><stop offset="0.92" stop-color="#0000da"/><stop offset="0.94" stop-color="#0000c8"/><stop offset="0.95" stop-color="#0000b6"/><stop offset="0.97" stop-color="#0000a4"/><stop offset="0.98" stop-color="#000092"/><stop offset="1" stop-color="#000080"/></linearGradient>
<clipPath id="c1"><rect x="127.5" y="115.5" width="1052" height="1388"/></clipPath>
<clipPath id="c2"><rect x="1300.5" y="115.5" width="842" height="1388"/></clipPath>
</defs>
<rect width="2400" height="1600" fill="#fff"/>
<text transform="translate(1200.2 51)" font-size="27.98" text-anchor="middle">Fill 11227:STABLE declared on October 27, 2025 at 20:19:14, FBCT</text>
<g clip-path="url(#c1)">
<g filter="url(#jn1)"><rect x="127.5" y="115.5" width="1052" height="1388" fill="#000"/><use href="#p2" transform="translate(114.95 0) scale(1.50286 1)"/><use href="#p3" transform="translate(179.57 0) scale(1.50286 1)"/><use href="#p0" transform="translate(280.27 0) scale(1.50286 1)"/><use href="#p1" transform="translate(344.89 0) scale(1.50286 1)"/><use href="#p2" transform="translate(409.51 0) scale(1.50286 1)"/><use href="#p3" transform="translate(474.13 0) scale(1.50286 1)"/><use href="#p0" transform="translate(574.83 0) scale(1.50286 1)"/><use href="#p1" transform="translate(639.45 0) scale(1.50286 1)"/><use href="#p2" transform="translate(704.07 0) scale(1.50286 1)"/><use href="#p3" transform="translate(768.69 0) scale(1.50286 1)"/><use href="#p0" transform="translate(869.39 0) scale(1.50286 1)"/><use href="#p1" transform="translate(934.01 0) scale(1.50286 1)"/><use href="#p2" transform="translate(998.63 0) scale(1.50286 1)"/><use href="#p3" transform="translate(1063.25 0) scale(1.50286 1)"/><use href="#p0" transform="translate(1163.95 0) scale(1.50286 1)"/></g>
<rect x="1176.2" y="1470" width="4" height="34" fill="#fff"/>
<polyline points="365.95,115.8 365.95,861.5 381.75,861.8 381.75,909.9 397.55,910.2 397.55,978.1 421.25,978.4 421.25,1011.7 437.05,1012 437.05,1053.8 461.35,1054.1 461.35,1078.3 485.05,1078.6 485.05,1138.3 517.45,1138.8 517.45,1180.9 541.05,1181.6 541.05,1231.3 572.95,1232.4 572.95,1288.7 612.85,1289.8 612.85,1354.1 660.85,1355.2 660.85,1402.5 700.05,1404.1 700.05,1452.8 732.45,1453.9 732.45,1462.8 1179.15,1470.9" fill="none" stroke="#fff" stroke-width="6.3" stroke-linejoin="round" stroke-linecap="butt"/>
<text transform="translate(492 1135.5) rotate(-90)" font-size="34.5" font-style="italic" style="fill:#fff">β</text><text transform="translate(483.6 1108) rotate(-90)" font-size="30.5" style="fill:#fff">*</text><text transform="translate(511.2 1117.5) rotate(-90)" font-size="30.5" style="fill:#fff">IP1/5</text>
</g>
<rect x="127.5" y="115.5" width="1052" height="1388" fill="none" stroke="#000" stroke-width="1.1"/>
<path d="M127.5 1503.5v4.9M277.5 1503.5v4.9M428.5 1503.5v4.9M578.5 1503.5v4.9M728.5 1503.5v4.9M878.5 1503.5v4.9M1029.5 1503.5v4.9M1179.5 1503.5v4.9M127.5 1503.5h-4.9M127.5 1229.5h-4.9M127.5 955.5h-4.9M127.5 680.5h-4.9M127.5 406.5h-4.9M127.5 132.5h-4.9" stroke="#000" stroke-width="1.1" fill="none"/>
<text transform="translate(126.3 1530.4) scale(0.96 1)" font-size="28.9" text-anchor="middle">1000</text>
<text transform="translate(276.59 1530.4) scale(0.96 1)" font-size="28.9" text-anchor="middle">1100</text>
<text transform="translate(426.87 1530.4) scale(0.96 1)" font-size="28.9" text-anchor="middle">1200</text>
<text transform="translate(577.16 1530.4) scale(0.96 1)" font-size="28.9" text-anchor="middle">1300</text>
<text transform="translate(727.44 1530.4) scale(0.96 1)" font-size="28.9" text-anchor="middle">1400</text>
<text transform="translate(877.73 1530.4) scale(0.96 1)" font-size="28.9" text-anchor="middle">1500</text>
<text transform="translate(1028.01 1530.4) scale(0.96 1)" font-size="28.9" text-anchor="middle">1600</text>
<text transform="translate(1178.3 1530.4) scale(0.96 1)" font-size="28.9" text-anchor="middle">1700</text>
<text transform="translate(120.5 1512.3) scale(0.96 1)" font-size="28.9" text-anchor="end">0</text>
<text transform="translate(120.5 1238.3) scale(0.96 1)" font-size="28.9" text-anchor="end">1000</text>
<text transform="translate(120.5 964.3) scale(0.96 1)" font-size="28.9" text-anchor="end">2000</text>
<text transform="translate(120.5 689.3) scale(0.96 1)" font-size="28.9" text-anchor="end">3000</text>
<text transform="translate(120.5 415.3) scale(0.96 1)" font-size="28.9" text-anchor="end">4000</text>
<text transform="translate(120.5 141.3) scale(0.96 1)" font-size="28.9" text-anchor="end">5000</text>
<text transform="translate(651.5 107.8)" font-size="33.33" text-anchor="middle">Beam 1</text>
<text transform="translate(652.3 1562.8)" font-size="33.33" text-anchor="middle">Bunch Slot</text>
<text transform="translate(52 809.5) rotate(-90)" font-size="33.33" text-anchor="middle">Time</text>
<g clip-path="url(#c2)">
<g filter="url(#jn2)"><rect x="1300.5" y="115.5" width="842" height="1388" fill="#000"/><use href="#q" transform="translate(1290.28 0) scale(1.20286 1)"/><use href="#q" transform="translate(1342 0) scale(1.20286 1)"/><use href="#q" transform="translate(1422.59 0) scale(1.20286 1)"/><use href="#q" transform="translate(1474.31 0) scale(1.20286 1)"/><use href="#q" transform="translate(1526.04 0) scale(1.20286 1)"/><use href="#q" transform="translate(1577.76 0) scale(1.20286 1)"/><use href="#q" transform="translate(1658.35 0) scale(1.20286 1)"/><use href="#q" transform="translate(1710.07 0) scale(1.20286 1)"/><use href="#q" transform="translate(1761.8 0) scale(1.20286 1)"/><use href="#q" transform="translate(1813.52 0) scale(1.20286 1)"/><use href="#q" transform="translate(1894.11 0) scale(1.20286 1)"/><use href="#q" transform="translate(1945.83 0) scale(1.20286 1)"/><use href="#q" transform="translate(1997.56 0) scale(1.20286 1)"/><use href="#q" transform="translate(2049.28 0) scale(1.20286 1)"/><use href="#q" transform="translate(2129.87 0) scale(1.20286 1)"/></g>
<rect x="2138" y="1470" width="4" height="34" fill="#fff"/>
<polyline points="1491.35,115.8 1491.35,861.5 1504,861.8 1504,909.9 1516.64,910.2 1516.64,978.1 1535.61,978.4 1535.61,1011.7 1548.26,1012 1548.26,1053.8 1567.71,1054.1 1567.71,1078.3 1586.68,1078.6 1586.68,1138.3 1612.61,1138.8 1612.61,1180.9 1631.5,1181.6 1631.5,1231.3 1657.03,1232.4 1657.03,1288.7 1688.96,1289.8 1688.96,1354.1 1727.38,1355.2 1727.38,1402.5 1758.76,1404.1 1758.76,1452.8 1784.69,1453.9 1784.69,1462.8 2142.22,1470.9" fill="none" stroke="#fff" stroke-width="6.3" stroke-linejoin="round" stroke-linecap="butt"/>
<text transform="translate(1598.2 1135.5) rotate(-90)" font-size="34.5" font-style="italic" style="fill:#fff">β</text><text transform="translate(1589.8 1108) rotate(-90)" font-size="30.5" style="fill:#fff">*</text><text transform="translate(1617.4 1117.5) rotate(-90)" font-size="30.5" style="fill:#fff">IP1/5</text>
</g>
<rect x="1300.5" y="115.5" width="842" height="1388" fill="none" stroke="#000" stroke-width="1.1"/>
<path d="M1300.5 1503.5v4.9M1420.5 1503.5v4.9M1541.5 1503.5v4.9M1661.5 1503.5v4.9M1781.5 1503.5v4.9M1901.5 1503.5v4.9M2022.5 1503.5v4.9M2142.5 1503.5v4.9M1300.5 1503.5h-4.9M1300.5 1229.5h-4.9M1300.5 955.5h-4.9M1300.5 680.5h-4.9M1300.5 406.5h-4.9M1300.5 132.5h-4.9" stroke="#000" stroke-width="1.1" fill="none"/>
<text transform="translate(1299.3 1530.4) scale(0.96 1)" font-size="28.9" text-anchor="middle">1000</text>
<text transform="translate(1419.59 1530.4) scale(0.96 1)" font-size="28.9" text-anchor="middle">1100</text>
<text transform="translate(1539.87 1530.4) scale(0.96 1)" font-size="28.9" text-anchor="middle">1200</text>
<text transform="translate(1660.16 1530.4) scale(0.96 1)" font-size="28.9" text-anchor="middle">1300</text>
<text transform="translate(1780.44 1530.4) scale(0.96 1)" font-size="28.9" text-anchor="middle">1400</text>
<text transform="translate(1900.73 1530.4) scale(0.96 1)" font-size="28.9" text-anchor="middle">1500</text>
<text transform="translate(2021.01 1530.4) scale(0.96 1)" font-size="28.9" text-anchor="middle">1600</text>
<text transform="translate(2141.3 1530.4) scale(0.96 1)" font-size="28.9" text-anchor="middle">1700</text>
<text transform="translate(1293.5 1512.3) scale(0.96 1)" font-size="28.9" text-anchor="end">0</text>
<text transform="translate(1293.5 1238.3) scale(0.96 1)" font-size="28.9" text-anchor="end">1000</text>
<text transform="translate(1293.5 964.3) scale(0.96 1)" font-size="28.9" text-anchor="end">2000</text>
<text transform="translate(1293.5 689.3) scale(0.96 1)" font-size="28.9" text-anchor="end">3000</text>
<text transform="translate(1293.5 415.3) scale(0.96 1)" font-size="28.9" text-anchor="end">4000</text>
<text transform="translate(1293.5 141.3) scale(0.96 1)" font-size="28.9" text-anchor="end">5000</text>
<text transform="translate(1720.3 107.8)" font-size="33.33" text-anchor="middle">Beam 2</text>
<text transform="translate(1720.3 1562.8)" font-size="33.33" text-anchor="middle">Bunch Slot</text>
<rect x="2194.5" y="115.5" width="70" height="1388" fill="url(#cbg)" stroke="#000" stroke-width="1.1"/>
<path d="M2264.5 1393.5h4.9M2264.5 1211.5h4.9M2264.5 1028.5h4.9M2264.5 846.5h4.9M2264.5 663.5h4.9M2264.5 480.5h4.9M2264.5 298.5h4.9M2264.5 115.5h4.9" stroke="#000" stroke-width="1.1" fill="none"/>
<text transform="translate(2272.1 1401.9) scale(0.96 1)" font-size="28.9" text-anchor="start">75</text>
<text transform="translate(2272.1 1219.9) scale(0.96 1)" font-size="28.9" text-anchor="start">100</text>
<text transform="translate(2272.1 1036.9) scale(0.96 1)" font-size="28.9" text-anchor="start">125</text>
<text transform="translate(2272.1 854.9) scale(0.96 1)" font-size="28.9" text-anchor="start">150</text>
<text transform="translate(2272.1 671.9) scale(0.96 1)" font-size="28.9" text-anchor="start">175</text>
<text transform="translate(2272.1 488.9) scale(0.96 1)" font-size="28.9" text-anchor="start">200</text>
<text transform="translate(2272.1 306.9) scale(0.96 1)" font-size="28.9" text-anchor="start">225</text>
<text transform="translate(2272.1 123.9) scale(0.96 1)" font-size="28.9" text-anchor="start">250</text>
<text transform="translate(2339.9 809.5) rotate(-90)" font-size="33.33" text-anchor="middle">Effective cross section (mb)</text>
</svg></body></html>
